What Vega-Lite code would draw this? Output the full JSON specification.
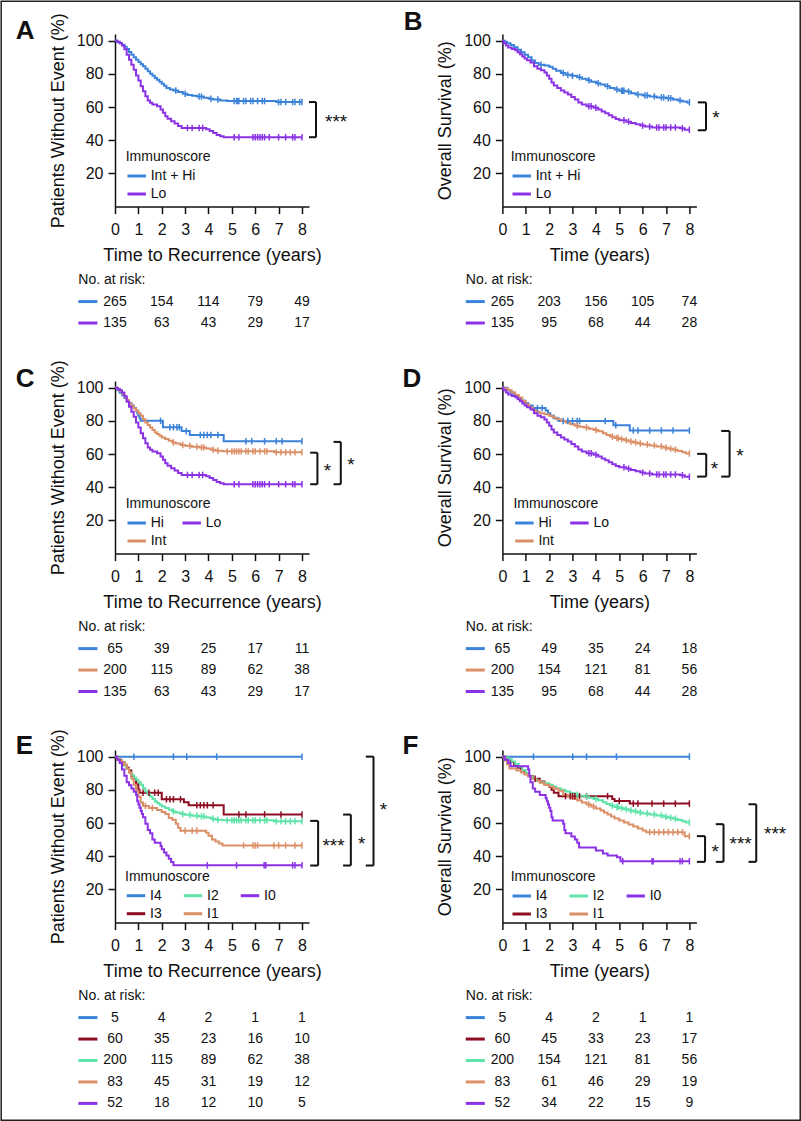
{
"$schema": "https://vega.github.io/schema/vega-lite/v6.json",
"padding": 0,
"autosize": {"type": "pad"},
"background": "white",
"bounds": "flush",
"columns": 2,
"spacing": {"row": 0, "column": 193.4},
"resolve": {"scale": {"color": "independent"}, "legend": {"color": "independent"}},
"config": {
  "font": "Liberation Sans",
  "view": {"stroke": null},
  "axis": {"grid": false, "labelOverlap": false, "labelFlush": false, "domainColor": "#111", "domainWidth": 1.5, "tickColor": "#111", "tickWidth": 1.5, "tickSize": 7, "labelFontSize": 16, "labelColor": "#111", "titleFontSize": 18, "titleFontWeight": "normal", "titleColor": "#111", "labelFont": "Liberation Sans", "titleFont": "Liberation Sans"},
  "axisX": {"tickCount": 9, "labelOverlap": false},
  "legend": {"orient": "none", "titleFontSize": 14, "titleFontWeight": "normal", "titleColor": "#111", "labelFontSize": 14, "labelColor": "#111", "symbolType": "stroke", "symbolStrokeWidth": 3, "symbolSize": 340, "labelOffset": 3, "rowPadding": 0, "titlePadding": 1, "padding": 0, "labelFont": "Liberation Sans", "titleFont": "Liberation Sans"},
  "text": {"font": "Liberation Sans"}
},
"datasets": {
"br": [
{"p":"A","xa":8.3,"xv":8.6,"ya":63,"yb":41.8,"lab":"***","lx":9.46,"ly":54},
{"p":"B","xa":8.36,"xv":8.71,"ya":62.8,"yb":46,"lab":"*","lx":9.14,"ly":56.4},
{"p":"C","xa":8.35,"xv":8.66,"ya":60.8,"yb":41.8,"lab":"*","lx":9.09,"ly":53},
{"p":"C","xa":9.35,"xv":9.66,"ya":67.3,"yb":41.8,"lab":"*","lx":10.09,"ly":56.3},
{"p":"D","xa":8.33,"xv":8.72,"ya":60.1,"yb":46.4,"lab":"*","lx":9.07,"ly":54},
{"p":"D","xa":9.36,"xv":9.72,"ya":73.9,"yb":46.4,"lab":"*","lx":10.16,"ly":61.9},
{"p":"E","xa":8.35,"xv":8.69,"ya":61.3,"yb":34.4,"lab":"***","lx":9.35,"ly":49},
{"p":"E","xa":9.76,"xv":10.09,"ya":65.1,"yb":34.4,"lab":"*","lx":10.55,"ly":50.5},
{"p":"E","xa":10.73,"xv":11.06,"ya":100,"yb":34.4,"lab":"*","lx":11.49,"ly":71},
{"p":"F","xa":8.32,"xv":8.67,"ya":52.1,"yb":36.6,"lab":"*","lx":9.1,"ly":45.7},
{"p":"F","xa":9.13,"xv":9.46,"ya":59.3,"yb":36.6,"lab":"***","lx":10.19,"ly":50.5},
{"p":"F","xa":10.53,"xv":10.86,"ya":71.3,"yb":36.6,"lab":"***","lx":11.67,"ly":56.6}
],
"risk": [
{"p":"A","g":"Int + Hi","r":1,"t":0,"n":"265"},{"p":"A","g":"Int + Hi","r":1,"t":2,"n":"154"},{"p":"A","g":"Int + Hi","r":1,"t":4,"n":"114"},{"p":"A","g":"Int + Hi","r":1,"t":6,"n":"79"},{"p":"A","g":"Int + Hi","r":1,"t":8,"n":"49"},
{"p":"A","g":"Lo","r":2,"t":0,"n":"135"},{"p":"A","g":"Lo","r":2,"t":2,"n":"63"},{"p":"A","g":"Lo","r":2,"t":4,"n":"43"},{"p":"A","g":"Lo","r":2,"t":6,"n":"29"},{"p":"A","g":"Lo","r":2,"t":8,"n":"17"},
{"p":"B","g":"Int + Hi","r":1,"t":0,"n":"265"},{"p":"B","g":"Int + Hi","r":1,"t":2,"n":"203"},{"p":"B","g":"Int + Hi","r":1,"t":4,"n":"156"},{"p":"B","g":"Int + Hi","r":1,"t":6,"n":"105"},{"p":"B","g":"Int + Hi","r":1,"t":8,"n":"74"},
{"p":"B","g":"Lo","r":2,"t":0,"n":"135"},{"p":"B","g":"Lo","r":2,"t":2,"n":"95"},{"p":"B","g":"Lo","r":2,"t":4,"n":"68"},{"p":"B","g":"Lo","r":2,"t":6,"n":"44"},{"p":"B","g":"Lo","r":2,"t":8,"n":"28"},
{"p":"C","g":"Hi","r":1,"t":0,"n":"65"},{"p":"C","g":"Hi","r":1,"t":2,"n":"39"},{"p":"C","g":"Hi","r":1,"t":4,"n":"25"},{"p":"C","g":"Hi","r":1,"t":6,"n":"17"},{"p":"C","g":"Hi","r":1,"t":8,"n":"11"},
{"p":"C","g":"Int","r":2,"t":0,"n":"200"},{"p":"C","g":"Int","r":2,"t":2,"n":"115"},{"p":"C","g":"Int","r":2,"t":4,"n":"89"},{"p":"C","g":"Int","r":2,"t":6,"n":"62"},{"p":"C","g":"Int","r":2,"t":8,"n":"38"},
{"p":"C","g":"Lo","r":3,"t":0,"n":"135"},{"p":"C","g":"Lo","r":3,"t":2,"n":"63"},{"p":"C","g":"Lo","r":3,"t":4,"n":"43"},{"p":"C","g":"Lo","r":3,"t":6,"n":"29"},{"p":"C","g":"Lo","r":3,"t":8,"n":"17"},
{"p":"D","g":"Hi","r":1,"t":0,"n":"65"},{"p":"D","g":"Hi","r":1,"t":2,"n":"49"},{"p":"D","g":"Hi","r":1,"t":4,"n":"35"},{"p":"D","g":"Hi","r":1,"t":6,"n":"24"},{"p":"D","g":"Hi","r":1,"t":8,"n":"18"},
{"p":"D","g":"Int","r":2,"t":0,"n":"200"},{"p":"D","g":"Int","r":2,"t":2,"n":"154"},{"p":"D","g":"Int","r":2,"t":4,"n":"121"},{"p":"D","g":"Int","r":2,"t":6,"n":"81"},{"p":"D","g":"Int","r":2,"t":8,"n":"56"},
{"p":"D","g":"Lo","r":3,"t":0,"n":"135"},{"p":"D","g":"Lo","r":3,"t":2,"n":"95"},{"p":"D","g":"Lo","r":3,"t":4,"n":"68"},{"p":"D","g":"Lo","r":3,"t":6,"n":"44"},{"p":"D","g":"Lo","r":3,"t":8,"n":"28"},
{"p":"E","g":"I4","r":1,"t":0,"n":"5"},{"p":"E","g":"I4","r":1,"t":2,"n":"4"},{"p":"E","g":"I4","r":1,"t":4,"n":"2"},{"p":"E","g":"I4","r":1,"t":6,"n":"1"},{"p":"E","g":"I4","r":1,"t":8,"n":"1"},
{"p":"E","g":"I3","r":2,"t":0,"n":"60"},{"p":"E","g":"I3","r":2,"t":2,"n":"35"},{"p":"E","g":"I3","r":2,"t":4,"n":"23"},{"p":"E","g":"I3","r":2,"t":6,"n":"16"},{"p":"E","g":"I3","r":2,"t":8,"n":"10"},
{"p":"E","g":"I2","r":3,"t":0,"n":"200"},{"p":"E","g":"I2","r":3,"t":2,"n":"115"},{"p":"E","g":"I2","r":3,"t":4,"n":"89"},{"p":"E","g":"I2","r":3,"t":6,"n":"62"},{"p":"E","g":"I2","r":3,"t":8,"n":"38"},
{"p":"E","g":"I1","r":4,"t":0,"n":"83"},{"p":"E","g":"I1","r":4,"t":2,"n":"45"},{"p":"E","g":"I1","r":4,"t":4,"n":"31"},{"p":"E","g":"I1","r":4,"t":6,"n":"19"},{"p":"E","g":"I1","r":4,"t":8,"n":"12"},
{"p":"E","g":"I0","r":5,"t":0,"n":"52"},{"p":"E","g":"I0","r":5,"t":2,"n":"18"},{"p":"E","g":"I0","r":5,"t":4,"n":"12"},{"p":"E","g":"I0","r":5,"t":6,"n":"10"},{"p":"E","g":"I0","r":5,"t":8,"n":"5"},
{"p":"F","g":"I4","r":1,"t":0,"n":"5"},{"p":"F","g":"I4","r":1,"t":2,"n":"4"},{"p":"F","g":"I4","r":1,"t":4,"n":"2"},{"p":"F","g":"I4","r":1,"t":6,"n":"1"},{"p":"F","g":"I4","r":1,"t":8,"n":"1"},
{"p":"F","g":"I3","r":2,"t":0,"n":"60"},{"p":"F","g":"I3","r":2,"t":2,"n":"45"},{"p":"F","g":"I3","r":2,"t":4,"n":"33"},{"p":"F","g":"I3","r":2,"t":6,"n":"23"},{"p":"F","g":"I3","r":2,"t":8,"n":"17"},
{"p":"F","g":"I2","r":3,"t":0,"n":"200"},{"p":"F","g":"I2","r":3,"t":2,"n":"154"},{"p":"F","g":"I2","r":3,"t":4,"n":"121"},{"p":"F","g":"I2","r":3,"t":6,"n":"81"},{"p":"F","g":"I2","r":3,"t":8,"n":"56"},
{"p":"F","g":"I1","r":4,"t":0,"n":"83"},{"p":"F","g":"I1","r":4,"t":2,"n":"61"},{"p":"F","g":"I1","r":4,"t":4,"n":"46"},{"p":"F","g":"I1","r":4,"t":6,"n":"29"},{"p":"F","g":"I1","r":4,"t":8,"n":"19"},
{"p":"F","g":"I0","r":5,"t":0,"n":"52"},{"p":"F","g":"I0","r":5,"t":2,"n":"34"},{"p":"F","g":"I0","r":5,"t":4,"n":"22"},{"p":"F","g":"I0","r":5,"t":6,"n":"15"},{"p":"F","g":"I0","r":5,"t":8,"n":"9"}
],
"km": [
{"p":"A","g":"Int + Hi","t":0,"s":100},{"p":"A","g":"Int + Hi","t":0.1,"s":99.2},{"p":"A","g":"Int + Hi","t":0.2,"s":98.5},{"p":"A","g":"Int + Hi","t":0.3,"s":97.5},{"p":"A","g":"Int + Hi","t":0.4,"s":96.3},{"p":"A","g":"Int + Hi","t":0.5,"s":95},{"p":"A","g":"Int + Hi","t":0.6,"s":93.2},{"p":"A","g":"Int + Hi","t":0.7,"s":91.5},{"p":"A","g":"Int + Hi","t":0.8,"s":90},{"p":"A","g":"Int + Hi","t":0.9,"s":88.5},{"p":"A","g":"Int + Hi","t":1,"s":87.2},{"p":"A","g":"Int + Hi","t":1.1,"s":85.8},{"p":"A","g":"Int + Hi","t":1.2,"s":84.5},{"p":"A","g":"Int + Hi","t":1.3,"s":83},{"p":"A","g":"Int + Hi","t":1.4,"s":81.5},{"p":"A","g":"Int + Hi","t":1.5,"s":80},{"p":"A","g":"Int + Hi","t":1.6,"s":78.8},{"p":"A","g":"Int + Hi","t":1.7,"s":77.5},{"p":"A","g":"Int + Hi","t":1.8,"s":76.5},{"p":"A","g":"Int + Hi","t":1.9,"s":75.3},{"p":"A","g":"Int + Hi","t":2,"s":74},{"p":"A","g":"Int + Hi","t":2.1,"s":72.8},{"p":"A","g":"Int + Hi","t":2.2,"s":71.5},{"p":"A","g":"Int + Hi","t":2.35,"s":70.5},{"p":"A","g":"Int + Hi","t":2.5,"s":70},{"p":"A","g":"Int + Hi","t":2.7,"s":69},{"p":"A","g":"Int + Hi","t":2.9,"s":68},{"p":"A","g":"Int + Hi","t":3.1,"s":67.3},{"p":"A","g":"Int + Hi","t":3.3,"s":66.8},{"p":"A","g":"Int + Hi","t":3.5,"s":66.3},{"p":"A","g":"Int + Hi","t":3.8,"s":65.6},{"p":"A","g":"Int + Hi","t":4,"s":65},{"p":"A","g":"Int + Hi","t":4.2,"s":64.5},{"p":"A","g":"Int + Hi","t":4.5,"s":64},{"p":"A","g":"Int + Hi","t":4.8,"s":63.6},{"p":"A","g":"Int + Hi","t":6.9,"s":63},{"p":"A","g":"Int + Hi","t":8,"s":63,"c":1},
{"p":"A","g":"Int + Hi","t":2.6,"s":70,"c":1},{"p":"A","g":"Int + Hi","t":3,"s":68,"c":1},{"p":"A","g":"Int + Hi","t":3.6,"s":66.3,"c":1},{"p":"A","g":"Int + Hi","t":3.7,"s":66.3,"c":1},{"p":"A","g":"Int + Hi","t":4.1,"s":65,"c":1},{"p":"A","g":"Int + Hi","t":4.4,"s":64.5,"c":1},{"p":"A","g":"Int + Hi","t":5.1,"s":63.6,"c":1},{"p":"A","g":"Int + Hi","t":5.2,"s":63.6,"c":1},{"p":"A","g":"Int + Hi","t":5.25,"s":63.6,"c":1},{"p":"A","g":"Int + Hi","t":5.3,"s":63.6,"c":1},{"p":"A","g":"Int + Hi","t":5.5,"s":63.6,"c":1},{"p":"A","g":"Int + Hi","t":5.6,"s":63.6,"c":1},{"p":"A","g":"Int + Hi","t":5.8,"s":63.6,"c":1},{"p":"A","g":"Int + Hi","t":5.9,"s":63.6,"c":1},{"p":"A","g":"Int + Hi","t":6.1,"s":63.6,"c":1},{"p":"A","g":"Int + Hi","t":6.3,"s":63.6,"c":1},{"p":"A","g":"Int + Hi","t":6.4,"s":63.6,"c":1},{"p":"A","g":"Int + Hi","t":7,"s":63,"c":1},{"p":"A","g":"Int + Hi","t":7.1,"s":63,"c":1},{"p":"A","g":"Int + Hi","t":7.3,"s":63,"c":1},{"p":"A","g":"Int + Hi","t":7.6,"s":63,"c":1},{"p":"A","g":"Int + Hi","t":7.7,"s":63,"c":1},{"p":"A","g":"Int + Hi","t":7.9,"s":63,"c":1},
{"p":"A","g":"Lo","t":0,"s":100},{"p":"A","g":"Lo","t":0.1,"s":99.3},{"p":"A","g":"Lo","t":0.2,"s":98.5},{"p":"A","g":"Lo","t":0.3,"s":97},{"p":"A","g":"Lo","t":0.4,"s":94.8},{"p":"A","g":"Lo","t":0.5,"s":91.5},{"p":"A","g":"Lo","t":0.6,"s":88.5},{"p":"A","g":"Lo","t":0.7,"s":85.5},{"p":"A","g":"Lo","t":0.8,"s":82.5},{"p":"A","g":"Lo","t":0.9,"s":79},{"p":"A","g":"Lo","t":1,"s":76},{"p":"A","g":"Lo","t":1.1,"s":72.5},{"p":"A","g":"Lo","t":1.2,"s":69.5},{"p":"A","g":"Lo","t":1.3,"s":66.5},{"p":"A","g":"Lo","t":1.4,"s":64},{"p":"A","g":"Lo","t":1.5,"s":62.5},{"p":"A","g":"Lo","t":1.6,"s":61.5},{"p":"A","g":"Lo","t":1.8,"s":60.5},{"p":"A","g":"Lo","t":1.95,"s":58.5},{"p":"A","g":"Lo","t":2.05,"s":56.5},{"p":"A","g":"Lo","t":2.15,"s":54.5},{"p":"A","g":"Lo","t":2.25,"s":53},{"p":"A","g":"Lo","t":2.4,"s":51.5},{"p":"A","g":"Lo","t":2.55,"s":50},{"p":"A","g":"Lo","t":2.7,"s":48.5},{"p":"A","g":"Lo","t":2.85,"s":47.4},{"p":"A","g":"Lo","t":3.9,"s":46.6},{"p":"A","g":"Lo","t":4.05,"s":45.5},{"p":"A","g":"Lo","t":4.2,"s":44.3},{"p":"A","g":"Lo","t":4.35,"s":43.2},{"p":"A","g":"Lo","t":4.5,"s":42.4},{"p":"A","g":"Lo","t":4.65,"s":41.8},{"p":"A","g":"Lo","t":8,"s":41.8,"c":1},
{"p":"A","g":"Lo","t":3.1,"s":47.4,"c":1},{"p":"A","g":"Lo","t":3.3,"s":47.4,"c":1},{"p":"A","g":"Lo","t":3.6,"s":47.4,"c":1},{"p":"A","g":"Lo","t":3.75,"s":47.4,"c":1},{"p":"A","g":"Lo","t":5.1,"s":41.8,"c":1},{"p":"A","g":"Lo","t":5.3,"s":41.8,"c":1},{"p":"A","g":"Lo","t":5.9,"s":41.8,"c":1},{"p":"A","g":"Lo","t":6,"s":41.8,"c":1},{"p":"A","g":"Lo","t":6.1,"s":41.8,"c":1},{"p":"A","g":"Lo","t":6.2,"s":41.8,"c":1},{"p":"A","g":"Lo","t":6.3,"s":41.8,"c":1},{"p":"A","g":"Lo","t":6.4,"s":41.8,"c":1},{"p":"A","g":"Lo","t":6.6,"s":41.8,"c":1},{"p":"A","g":"Lo","t":7,"s":41.8,"c":1},{"p":"A","g":"Lo","t":7.3,"s":41.8,"c":1},{"p":"A","g":"Lo","t":7.6,"s":41.8,"c":1},{"p":"A","g":"Lo","t":7.7,"s":41.8,"c":1},
{"p":"B","g":"Int + Hi","t":0,"s":100},{"p":"B","g":"Int + Hi","t":0.1,"s":99.3},{"p":"B","g":"Int + Hi","t":0.2,"s":98.5},{"p":"B","g":"Int + Hi","t":0.35,"s":97.3},{"p":"B","g":"Int + Hi","t":0.5,"s":96},{"p":"B","g":"Int + Hi","t":0.65,"s":94.5},{"p":"B","g":"Int + Hi","t":0.8,"s":93},{"p":"B","g":"Int + Hi","t":0.95,"s":91.5},{"p":"B","g":"Int + Hi","t":1.1,"s":90},{"p":"B","g":"Int + Hi","t":1.25,"s":88},{"p":"B","g":"Int + Hi","t":1.4,"s":86.5},{"p":"B","g":"Int + Hi","t":1.55,"s":85.5},{"p":"B","g":"Int + Hi","t":1.8,"s":85},{"p":"B","g":"Int + Hi","t":2,"s":84.3},{"p":"B","g":"Int + Hi","t":2.15,"s":83},{"p":"B","g":"Int + Hi","t":2.3,"s":81.8},{"p":"B","g":"Int + Hi","t":2.5,"s":80.5},{"p":"B","g":"Int + Hi","t":2.7,"s":79.5},{"p":"B","g":"Int + Hi","t":2.95,"s":78.8},{"p":"B","g":"Int + Hi","t":3.2,"s":78},{"p":"B","g":"Int + Hi","t":3.4,"s":77},{"p":"B","g":"Int + Hi","t":3.6,"s":76.2},{"p":"B","g":"Int + Hi","t":3.8,"s":75.3},{"p":"B","g":"Int + Hi","t":4,"s":74.3},{"p":"B","g":"Int + Hi","t":4.2,"s":73.5},{"p":"B","g":"Int + Hi","t":4.4,"s":72.5},{"p":"B","g":"Int + Hi","t":4.6,"s":71.5},{"p":"B","g":"Int + Hi","t":4.8,"s":70.5},{"p":"B","g":"Int + Hi","t":5,"s":69.8},{"p":"B","g":"Int + Hi","t":5.3,"s":69.3},{"p":"B","g":"Int + Hi","t":5.5,"s":68.3},{"p":"B","g":"Int + Hi","t":5.7,"s":67.5},{"p":"B","g":"Int + Hi","t":6,"s":67},{"p":"B","g":"Int + Hi","t":6.3,"s":66.4},{"p":"B","g":"Int + Hi","t":6.6,"s":65.8},{"p":"B","g":"Int + Hi","t":7,"s":65.3},{"p":"B","g":"Int + Hi","t":7.3,"s":64.5},{"p":"B","g":"Int + Hi","t":7.5,"s":64},{"p":"B","g":"Int + Hi","t":7.7,"s":63.3},{"p":"B","g":"Int + Hi","t":7.9,"s":62.8},{"p":"B","g":"Int + Hi","t":8,"s":62.8,"c":1},
{"p":"B","g":"Int + Hi","t":1.65,"s":85.5,"c":1},{"p":"B","g":"Int + Hi","t":2.6,"s":80.5,"c":1},{"p":"B","g":"Int + Hi","t":2.8,"s":79.5,"c":1},{"p":"B","g":"Int + Hi","t":3,"s":78.8,"c":1},{"p":"B","g":"Int + Hi","t":3.3,"s":78,"c":1},{"p":"B","g":"Int + Hi","t":3.7,"s":76.2,"c":1},{"p":"B","g":"Int + Hi","t":4.1,"s":74.3,"c":1},{"p":"B","g":"Int + Hi","t":4.5,"s":72.5,"c":1},{"p":"B","g":"Int + Hi","t":4.9,"s":70.5,"c":1},{"p":"B","g":"Int + Hi","t":5.1,"s":69.8,"c":1},{"p":"B","g":"Int + Hi","t":5.15,"s":69.8,"c":1},{"p":"B","g":"Int + Hi","t":5.2,"s":69.8,"c":1},{"p":"B","g":"Int + Hi","t":5.4,"s":69.3,"c":1},{"p":"B","g":"Int + Hi","t":5.8,"s":67.5,"c":1},{"p":"B","g":"Int + Hi","t":6.1,"s":67,"c":1},{"p":"B","g":"Int + Hi","t":6.2,"s":67,"c":1},{"p":"B","g":"Int + Hi","t":6.5,"s":66.4,"c":1},{"p":"B","g":"Int + Hi","t":6.8,"s":65.8,"c":1},{"p":"B","g":"Int + Hi","t":6.9,"s":65.8,"c":1},{"p":"B","g":"Int + Hi","t":7.1,"s":65.3,"c":1},{"p":"B","g":"Int + Hi","t":7.2,"s":65.3,"c":1},{"p":"B","g":"Int + Hi","t":7.6,"s":64,"c":1},
{"p":"B","g":"Lo","t":0,"s":100},{"p":"B","g":"Lo","t":0.05,"s":98.5},{"p":"B","g":"Lo","t":0.15,"s":97},{"p":"B","g":"Lo","t":0.25,"s":95.8},{"p":"B","g":"Lo","t":0.4,"s":95},{"p":"B","g":"Lo","t":0.55,"s":94.2},{"p":"B","g":"Lo","t":0.65,"s":93},{"p":"B","g":"Lo","t":0.75,"s":91.8},{"p":"B","g":"Lo","t":0.85,"s":90.5},{"p":"B","g":"Lo","t":0.95,"s":89.3},{"p":"B","g":"Lo","t":1.05,"s":88.2},{"p":"B","g":"Lo","t":1.2,"s":86.8},{"p":"B","g":"Lo","t":1.35,"s":84.5},{"p":"B","g":"Lo","t":1.5,"s":83},{"p":"B","g":"Lo","t":1.65,"s":82.2},{"p":"B","g":"Lo","t":1.8,"s":80.8},{"p":"B","g":"Lo","t":1.9,"s":79},{"p":"B","g":"Lo","t":2,"s":77},{"p":"B","g":"Lo","t":2.1,"s":74.8},{"p":"B","g":"Lo","t":2.2,"s":73},{"p":"B","g":"Lo","t":2.35,"s":71.5},{"p":"B","g":"Lo","t":2.5,"s":70},{"p":"B","g":"Lo","t":2.65,"s":68.8},{"p":"B","g":"Lo","t":2.8,"s":67.5},{"p":"B","g":"Lo","t":2.95,"s":66},{"p":"B","g":"Lo","t":3.1,"s":64.5},{"p":"B","g":"Lo","t":3.25,"s":62.8},{"p":"B","g":"Lo","t":3.4,"s":61.5},{"p":"B","g":"Lo","t":3.6,"s":60.5},{"p":"B","g":"Lo","t":3.9,"s":59.6},{"p":"B","g":"Lo","t":4.1,"s":58.5},{"p":"B","g":"Lo","t":4.25,"s":57.3},{"p":"B","g":"Lo","t":4.4,"s":56.2},{"p":"B","g":"Lo","t":4.55,"s":55},{"p":"B","g":"Lo","t":4.7,"s":53.8},{"p":"B","g":"Lo","t":4.85,"s":52.8},{"p":"B","g":"Lo","t":5,"s":52},{"p":"B","g":"Lo","t":5.3,"s":51.2},{"p":"B","g":"Lo","t":5.5,"s":50.4},{"p":"B","g":"Lo","t":5.7,"s":49.6},{"p":"B","g":"Lo","t":5.9,"s":48.8},{"p":"B","g":"Lo","t":6.1,"s":48.2},{"p":"B","g":"Lo","t":6.4,"s":47.7},{"p":"B","g":"Lo","t":7.6,"s":47.2},{"p":"B","g":"Lo","t":7.8,"s":46.3},{"p":"B","g":"Lo","t":8,"s":46.3,"c":1},
{"p":"B","g":"Lo","t":3.7,"s":60.5,"c":1},{"p":"B","g":"Lo","t":3.8,"s":60.5,"c":1},{"p":"B","g":"Lo","t":4,"s":59.6,"c":1},{"p":"B","g":"Lo","t":5.2,"s":52,"c":1},{"p":"B","g":"Lo","t":5.4,"s":51.2,"c":1},{"p":"B","g":"Lo","t":6,"s":48.8,"c":1},{"p":"B","g":"Lo","t":6.3,"s":48.2,"c":1},{"p":"B","g":"Lo","t":6.6,"s":47.7,"c":1},{"p":"B","g":"Lo","t":6.7,"s":47.7,"c":1},{"p":"B","g":"Lo","t":6.9,"s":47.7,"c":1},{"p":"B","g":"Lo","t":7,"s":47.7,"c":1},{"p":"B","g":"Lo","t":7.2,"s":47.7,"c":1},{"p":"B","g":"Lo","t":7.4,"s":47.7,"c":1},{"p":"B","g":"Lo","t":7.7,"s":47.2,"c":1},
{"p":"C","g":"Hi","t":0,"s":100},{"p":"C","g":"Hi","t":0.1,"s":98.5},{"p":"C","g":"Hi","t":0.2,"s":96.9},{"p":"C","g":"Hi","t":0.3,"s":95.4},{"p":"C","g":"Hi","t":0.4,"s":93.8},{"p":"C","g":"Hi","t":0.5,"s":92.3},{"p":"C","g":"Hi","t":0.6,"s":90.8},{"p":"C","g":"Hi","t":0.7,"s":89.2},{"p":"C","g":"Hi","t":0.8,"s":87.7},{"p":"C","g":"Hi","t":0.9,"s":86.2},{"p":"C","g":"Hi","t":0.95,"s":84.6},{"p":"C","g":"Hi","t":1,"s":83},{"p":"C","g":"Hi","t":1.05,"s":81.5},{"p":"C","g":"Hi","t":1.1,"s":80},{"p":"C","g":"Hi","t":2.05,"s":76.2},{"p":"C","g":"Hi","t":2.85,"s":73.8},{"p":"C","g":"Hi","t":3.2,"s":71.5},{"p":"C","g":"Hi","t":4.65,"s":67.7},{"p":"C","g":"Hi","t":8,"s":67.7,"c":1},
{"p":"C","g":"Hi","t":1.95,"s":80,"c":1},{"p":"C","g":"Hi","t":2.35,"s":76.2,"c":1},{"p":"C","g":"Hi","t":2.5,"s":76.2,"c":1},{"p":"C","g":"Hi","t":2.65,"s":76.2,"c":1},{"p":"C","g":"Hi","t":2.75,"s":76.2,"c":1},{"p":"C","g":"Hi","t":3.05,"s":73.8,"c":1},{"p":"C","g":"Hi","t":3.65,"s":71.5,"c":1},{"p":"C","g":"Hi","t":3.8,"s":71.5,"c":1},{"p":"C","g":"Hi","t":3.95,"s":71.5,"c":1},{"p":"C","g":"Hi","t":4.1,"s":71.5,"c":1},{"p":"C","g":"Hi","t":4.4,"s":71.5,"c":1},{"p":"C","g":"Hi","t":5.6,"s":67.7,"c":1},{"p":"C","g":"Hi","t":5.85,"s":67.7,"c":1},{"p":"C","g":"Hi","t":6.4,"s":67.7,"c":1},{"p":"C","g":"Hi","t":6.9,"s":67.7,"c":1},{"p":"C","g":"Hi","t":7.15,"s":67.7,"c":1},
{"p":"C","g":"Int","t":0,"s":100},{"p":"C","g":"Int","t":0.1,"s":99},{"p":"C","g":"Int","t":0.2,"s":98},{"p":"C","g":"Int","t":0.3,"s":96.5},{"p":"C","g":"Int","t":0.4,"s":94.5},{"p":"C","g":"Int","t":0.5,"s":92.5},{"p":"C","g":"Int","t":0.6,"s":90.5},{"p":"C","g":"Int","t":0.7,"s":89},{"p":"C","g":"Int","t":0.8,"s":87.5},{"p":"C","g":"Int","t":0.9,"s":86},{"p":"C","g":"Int","t":1,"s":84.5},{"p":"C","g":"Int","t":1.1,"s":83},{"p":"C","g":"Int","t":1.2,"s":81},{"p":"C","g":"Int","t":1.3,"s":79},{"p":"C","g":"Int","t":1.4,"s":77.5},{"p":"C","g":"Int","t":1.5,"s":76},{"p":"C","g":"Int","t":1.6,"s":74.5},{"p":"C","g":"Int","t":1.7,"s":73},{"p":"C","g":"Int","t":1.8,"s":72},{"p":"C","g":"Int","t":1.9,"s":71},{"p":"C","g":"Int","t":2,"s":70},{"p":"C","g":"Int","t":2.15,"s":69},{"p":"C","g":"Int","t":2.3,"s":68},{"p":"C","g":"Int","t":2.45,"s":67},{"p":"C","g":"Int","t":2.6,"s":66.3},{"p":"C","g":"Int","t":2.8,"s":65.5},{"p":"C","g":"Int","t":3,"s":65},{"p":"C","g":"Int","t":3.3,"s":64.4},{"p":"C","g":"Int","t":3.6,"s":64},{"p":"C","g":"Int","t":3.9,"s":63.3},{"p":"C","g":"Int","t":4.1,"s":62.6},{"p":"C","g":"Int","t":4.3,"s":62},{"p":"C","g":"Int","t":4.6,"s":61.6},{"p":"C","g":"Int","t":6.8,"s":61},{"p":"C","g":"Int","t":8,"s":61,"c":1},
{"p":"C","g":"Int","t":2.5,"s":67,"c":1},{"p":"C","g":"Int","t":2.9,"s":65.5,"c":1},{"p":"C","g":"Int","t":3.2,"s":65,"c":1},{"p":"C","g":"Int","t":3.5,"s":64.4,"c":1},{"p":"C","g":"Int","t":3.7,"s":64,"c":1},{"p":"C","g":"Int","t":3.8,"s":64,"c":1},{"p":"C","g":"Int","t":4.2,"s":62.6,"c":1},{"p":"C","g":"Int","t":4.4,"s":62,"c":1},{"p":"C","g":"Int","t":4.8,"s":61.6,"c":1},{"p":"C","g":"Int","t":5,"s":61.6,"c":1},{"p":"C","g":"Int","t":5.1,"s":61.6,"c":1},{"p":"C","g":"Int","t":5.2,"s":61.6,"c":1},{"p":"C","g":"Int","t":5.3,"s":61.6,"c":1},{"p":"C","g":"Int","t":5.4,"s":61.6,"c":1},{"p":"C","g":"Int","t":5.6,"s":61.6,"c":1},{"p":"C","g":"Int","t":5.7,"s":61.6,"c":1},{"p":"C","g":"Int","t":5.9,"s":61.6,"c":1},{"p":"C","g":"Int","t":6,"s":61.6,"c":1},{"p":"C","g":"Int","t":6.2,"s":61.6,"c":1},{"p":"C","g":"Int","t":6.4,"s":61.6,"c":1},{"p":"C","g":"Int","t":6.5,"s":61.6,"c":1},{"p":"C","g":"Int","t":6.9,"s":61,"c":1},{"p":"C","g":"Int","t":7.1,"s":61,"c":1},{"p":"C","g":"Int","t":7.3,"s":61,"c":1},{"p":"C","g":"Int","t":7.5,"s":61,"c":1},{"p":"C","g":"Int","t":7.7,"s":61,"c":1},
{"p":"C","g":"Lo","t":0,"s":100},{"p":"C","g":"Lo","t":0.1,"s":99.3},{"p":"C","g":"Lo","t":0.2,"s":98.5},{"p":"C","g":"Lo","t":0.3,"s":97},{"p":"C","g":"Lo","t":0.4,"s":94.8},{"p":"C","g":"Lo","t":0.5,"s":91.5},{"p":"C","g":"Lo","t":0.6,"s":88.5},{"p":"C","g":"Lo","t":0.7,"s":85.5},{"p":"C","g":"Lo","t":0.8,"s":82.5},{"p":"C","g":"Lo","t":0.9,"s":79},{"p":"C","g":"Lo","t":1,"s":76},{"p":"C","g":"Lo","t":1.1,"s":72.5},{"p":"C","g":"Lo","t":1.2,"s":69.5},{"p":"C","g":"Lo","t":1.3,"s":66.5},{"p":"C","g":"Lo","t":1.4,"s":64},{"p":"C","g":"Lo","t":1.5,"s":62.5},{"p":"C","g":"Lo","t":1.6,"s":61.5},{"p":"C","g":"Lo","t":1.8,"s":60.5},{"p":"C","g":"Lo","t":1.95,"s":58.5},{"p":"C","g":"Lo","t":2.05,"s":56.5},{"p":"C","g":"Lo","t":2.15,"s":54.5},{"p":"C","g":"Lo","t":2.25,"s":53},{"p":"C","g":"Lo","t":2.4,"s":51.5},{"p":"C","g":"Lo","t":2.55,"s":50},{"p":"C","g":"Lo","t":2.7,"s":48.5},{"p":"C","g":"Lo","t":2.85,"s":47.4},{"p":"C","g":"Lo","t":3.9,"s":46.6},{"p":"C","g":"Lo","t":4.05,"s":45.5},{"p":"C","g":"Lo","t":4.2,"s":44.3},{"p":"C","g":"Lo","t":4.35,"s":43.2},{"p":"C","g":"Lo","t":4.5,"s":42.4},{"p":"C","g":"Lo","t":4.65,"s":41.8},{"p":"C","g":"Lo","t":8,"s":41.8,"c":1},
{"p":"C","g":"Lo","t":3.1,"s":47.4,"c":1},{"p":"C","g":"Lo","t":3.3,"s":47.4,"c":1},{"p":"C","g":"Lo","t":3.6,"s":47.4,"c":1},{"p":"C","g":"Lo","t":3.75,"s":47.4,"c":1},{"p":"C","g":"Lo","t":5.1,"s":41.8,"c":1},{"p":"C","g":"Lo","t":5.3,"s":41.8,"c":1},{"p":"C","g":"Lo","t":5.9,"s":41.8,"c":1},{"p":"C","g":"Lo","t":6,"s":41.8,"c":1},{"p":"C","g":"Lo","t":6.1,"s":41.8,"c":1},{"p":"C","g":"Lo","t":6.2,"s":41.8,"c":1},{"p":"C","g":"Lo","t":6.3,"s":41.8,"c":1},{"p":"C","g":"Lo","t":6.4,"s":41.8,"c":1},{"p":"C","g":"Lo","t":6.6,"s":41.8,"c":1},{"p":"C","g":"Lo","t":7,"s":41.8,"c":1},{"p":"C","g":"Lo","t":7.3,"s":41.8,"c":1},{"p":"C","g":"Lo","t":7.6,"s":41.8,"c":1},{"p":"C","g":"Lo","t":7.7,"s":41.8,"c":1},
{"p":"D","g":"Hi","t":0,"s":100},{"p":"D","g":"Hi","t":0.2,"s":98.5},{"p":"D","g":"Hi","t":0.35,"s":97},{"p":"D","g":"Hi","t":0.5,"s":95.4},{"p":"D","g":"Hi","t":0.65,"s":93.8},{"p":"D","g":"Hi","t":0.8,"s":92.3},{"p":"D","g":"Hi","t":0.95,"s":90.8},{"p":"D","g":"Hi","t":1.1,"s":89.2},{"p":"D","g":"Hi","t":1.3,"s":87.7},{"p":"D","g":"Hi","t":1.85,"s":86.2},{"p":"D","g":"Hi","t":1.95,"s":84.6},{"p":"D","g":"Hi","t":2.05,"s":83},{"p":"D","g":"Hi","t":2.2,"s":81.5},{"p":"D","g":"Hi","t":2.4,"s":79.9},{"p":"D","g":"Hi","t":4.75,"s":77.4},{"p":"D","g":"Hi","t":5.45,"s":74.2},{"p":"D","g":"Hi","t":8,"s":74.2,"c":1},
{"p":"D","g":"Hi","t":1.5,"s":87.7,"c":1},{"p":"D","g":"Hi","t":1.7,"s":87.7,"c":1},{"p":"D","g":"Hi","t":2.6,"s":79.9,"c":1},{"p":"D","g":"Hi","t":2.8,"s":79.9,"c":1},{"p":"D","g":"Hi","t":3,"s":79.9,"c":1},{"p":"D","g":"Hi","t":3.2,"s":79.9,"c":1},{"p":"D","g":"Hi","t":3.3,"s":79.9,"c":1},{"p":"D","g":"Hi","t":4.4,"s":79.9,"c":1},{"p":"D","g":"Hi","t":4.85,"s":77.4,"c":1},{"p":"D","g":"Hi","t":5.6,"s":74.2,"c":1},{"p":"D","g":"Hi","t":5.8,"s":74.2,"c":1},{"p":"D","g":"Hi","t":6.3,"s":74.2,"c":1},{"p":"D","g":"Hi","t":6.8,"s":74.2,"c":1},{"p":"D","g":"Hi","t":7.3,"s":74.2,"c":1},
{"p":"D","g":"Int","t":0,"s":100},{"p":"D","g":"Int","t":0.1,"s":99.5},{"p":"D","g":"Int","t":0.25,"s":98.5},{"p":"D","g":"Int","t":0.4,"s":97},{"p":"D","g":"Int","t":0.55,"s":95.5},{"p":"D","g":"Int","t":0.7,"s":94},{"p":"D","g":"Int","t":0.85,"s":92},{"p":"D","g":"Int","t":1,"s":90},{"p":"D","g":"Int","t":1.15,"s":88},{"p":"D","g":"Int","t":1.3,"s":86.5},{"p":"D","g":"Int","t":1.45,"s":85.5},{"p":"D","g":"Int","t":1.6,"s":84.5},{"p":"D","g":"Int","t":1.8,"s":84},{"p":"D","g":"Int","t":2,"s":83},{"p":"D","g":"Int","t":2.15,"s":82},{"p":"D","g":"Int","t":2.3,"s":81},{"p":"D","g":"Int","t":2.5,"s":80},{"p":"D","g":"Int","t":2.7,"s":79},{"p":"D","g":"Int","t":2.9,"s":78},{"p":"D","g":"Int","t":3.1,"s":77},{"p":"D","g":"Int","t":3.3,"s":76.5},{"p":"D","g":"Int","t":3.5,"s":76},{"p":"D","g":"Int","t":3.7,"s":75.3},{"p":"D","g":"Int","t":3.9,"s":74.5},{"p":"D","g":"Int","t":4.1,"s":73.7},{"p":"D","g":"Int","t":4.3,"s":72.5},{"p":"D","g":"Int","t":4.45,"s":71.5},{"p":"D","g":"Int","t":4.6,"s":70.5},{"p":"D","g":"Int","t":4.8,"s":69.7},{"p":"D","g":"Int","t":5,"s":69},{"p":"D","g":"Int","t":5.2,"s":68.3},{"p":"D","g":"Int","t":5.4,"s":67.5},{"p":"D","g":"Int","t":5.6,"s":67},{"p":"D","g":"Int","t":5.8,"s":66.3},{"p":"D","g":"Int","t":6,"s":65.8},{"p":"D","g":"Int","t":6.3,"s":65.2},{"p":"D","g":"Int","t":6.6,"s":64.6},{"p":"D","g":"Int","t":6.9,"s":63.8},{"p":"D","g":"Int","t":7.1,"s":63.2},{"p":"D","g":"Int","t":7.3,"s":62.6},{"p":"D","g":"Int","t":7.5,"s":61.8},{"p":"D","g":"Int","t":7.7,"s":61},{"p":"D","g":"Int","t":7.85,"s":60.3},{"p":"D","g":"Int","t":8,"s":60.3,"c":1},
{"p":"D","g":"Int","t":3.2,"s":77,"c":1},{"p":"D","g":"Int","t":3.6,"s":76,"c":1},{"p":"D","g":"Int","t":4,"s":74.5,"c":1},{"p":"D","g":"Int","t":4.7,"s":70.5,"c":1},{"p":"D","g":"Int","t":4.9,"s":69.7,"c":1},{"p":"D","g":"Int","t":4.95,"s":69.7,"c":1},{"p":"D","g":"Int","t":5.1,"s":69,"c":1},{"p":"D","g":"Int","t":5.3,"s":68.3,"c":1},{"p":"D","g":"Int","t":5.5,"s":67.5,"c":1},{"p":"D","g":"Int","t":5.7,"s":67,"c":1},{"p":"D","g":"Int","t":5.9,"s":66.3,"c":1},{"p":"D","g":"Int","t":6.2,"s":65.8,"c":1},{"p":"D","g":"Int","t":6.5,"s":65.2,"c":1},{"p":"D","g":"Int","t":6.8,"s":64.6,"c":1},{"p":"D","g":"Int","t":7,"s":63.8,"c":1},{"p":"D","g":"Int","t":7.2,"s":63.2,"c":1},{"p":"D","g":"Int","t":7.4,"s":62.6,"c":1},
{"p":"D","g":"Lo","t":0,"s":100},{"p":"D","g":"Lo","t":0.05,"s":98.5},{"p":"D","g":"Lo","t":0.15,"s":97},{"p":"D","g":"Lo","t":0.25,"s":95.8},{"p":"D","g":"Lo","t":0.4,"s":95},{"p":"D","g":"Lo","t":0.55,"s":94.2},{"p":"D","g":"Lo","t":0.65,"s":93},{"p":"D","g":"Lo","t":0.75,"s":91.8},{"p":"D","g":"Lo","t":0.85,"s":90.5},{"p":"D","g":"Lo","t":0.95,"s":89.3},{"p":"D","g":"Lo","t":1.05,"s":88.2},{"p":"D","g":"Lo","t":1.2,"s":86.8},{"p":"D","g":"Lo","t":1.35,"s":84.5},{"p":"D","g":"Lo","t":1.5,"s":83},{"p":"D","g":"Lo","t":1.65,"s":82.2},{"p":"D","g":"Lo","t":1.8,"s":80.8},{"p":"D","g":"Lo","t":1.9,"s":79},{"p":"D","g":"Lo","t":2,"s":77},{"p":"D","g":"Lo","t":2.1,"s":74.8},{"p":"D","g":"Lo","t":2.2,"s":73},{"p":"D","g":"Lo","t":2.35,"s":71.5},{"p":"D","g":"Lo","t":2.5,"s":70},{"p":"D","g":"Lo","t":2.65,"s":68.8},{"p":"D","g":"Lo","t":2.8,"s":67.5},{"p":"D","g":"Lo","t":2.95,"s":66},{"p":"D","g":"Lo","t":3.1,"s":64.5},{"p":"D","g":"Lo","t":3.25,"s":62.8},{"p":"D","g":"Lo","t":3.4,"s":61.5},{"p":"D","g":"Lo","t":3.6,"s":60.5},{"p":"D","g":"Lo","t":3.9,"s":59.6},{"p":"D","g":"Lo","t":4.1,"s":58.5},{"p":"D","g":"Lo","t":4.25,"s":57.3},{"p":"D","g":"Lo","t":4.4,"s":56.2},{"p":"D","g":"Lo","t":4.55,"s":55},{"p":"D","g":"Lo","t":4.7,"s":53.8},{"p":"D","g":"Lo","t":4.85,"s":52.8},{"p":"D","g":"Lo","t":5,"s":52},{"p":"D","g":"Lo","t":5.3,"s":51.2},{"p":"D","g":"Lo","t":5.5,"s":50.4},{"p":"D","g":"Lo","t":5.7,"s":49.6},{"p":"D","g":"Lo","t":5.9,"s":48.8},{"p":"D","g":"Lo","t":6.1,"s":48.2},{"p":"D","g":"Lo","t":6.4,"s":47.7},{"p":"D","g":"Lo","t":7.6,"s":47.2},{"p":"D","g":"Lo","t":7.8,"s":46.3},{"p":"D","g":"Lo","t":8,"s":46.3,"c":1},
{"p":"D","g":"Lo","t":3.7,"s":60.5,"c":1},{"p":"D","g":"Lo","t":3.8,"s":60.5,"c":1},{"p":"D","g":"Lo","t":4,"s":59.6,"c":1},{"p":"D","g":"Lo","t":5.2,"s":52,"c":1},{"p":"D","g":"Lo","t":5.4,"s":51.2,"c":1},{"p":"D","g":"Lo","t":6,"s":48.8,"c":1},{"p":"D","g":"Lo","t":6.3,"s":48.2,"c":1},{"p":"D","g":"Lo","t":6.6,"s":47.7,"c":1},{"p":"D","g":"Lo","t":6.7,"s":47.7,"c":1},{"p":"D","g":"Lo","t":6.9,"s":47.7,"c":1},{"p":"D","g":"Lo","t":7,"s":47.7,"c":1},{"p":"D","g":"Lo","t":7.2,"s":47.7,"c":1},{"p":"D","g":"Lo","t":7.4,"s":47.7,"c":1},{"p":"D","g":"Lo","t":7.7,"s":47.2,"c":1},
{"p":"E","g":"I4","t":0,"s":100},{"p":"E","g":"I4","t":0.81,"s":100,"c":1},{"p":"E","g":"I4","t":2.5,"s":100,"c":1},{"p":"E","g":"I4","t":3.07,"s":100,"c":1},{"p":"E","g":"I4","t":4.35,"s":100,"c":1},{"p":"E","g":"I4","t":8,"s":100,"c":1},
{"p":"E","g":"I3","t":0,"s":100},{"p":"E","g":"I3","t":0.1,"s":98.3},{"p":"E","g":"I3","t":0.25,"s":96.7},{"p":"E","g":"I3","t":0.4,"s":95},{"p":"E","g":"I3","t":0.5,"s":93.3},{"p":"E","g":"I3","t":0.6,"s":91.7},{"p":"E","g":"I3","t":0.7,"s":88.3},{"p":"E","g":"I3","t":0.8,"s":86.7},{"p":"E","g":"I3","t":0.9,"s":83.3},{"p":"E","g":"I3","t":1,"s":80},{"p":"E","g":"I3","t":1.05,"s":78.3},{"p":"E","g":"I3","t":2,"s":74.3},{"p":"E","g":"I3","t":2.95,"s":72.5},{"p":"E","g":"I3","t":3.15,"s":70.7},{"p":"E","g":"I3","t":4.65,"s":65.2},{"p":"E","g":"I3","t":8,"s":65.2,"c":1},
{"p":"E","g":"I3","t":1.2,"s":78.3,"c":1},{"p":"E","g":"I3","t":1.45,"s":78.3,"c":1},{"p":"E","g":"I3","t":1.7,"s":78.3,"c":1},{"p":"E","g":"I3","t":1.85,"s":78.3,"c":1},{"p":"E","g":"I3","t":2.2,"s":74.3,"c":1},{"p":"E","g":"I3","t":2.35,"s":74.3,"c":1},{"p":"E","g":"I3","t":2.5,"s":74.3,"c":1},{"p":"E","g":"I3","t":2.8,"s":74.3,"c":1},{"p":"E","g":"I3","t":3.5,"s":70.7,"c":1},{"p":"E","g":"I3","t":3.65,"s":70.7,"c":1},{"p":"E","g":"I3","t":3.8,"s":70.7,"c":1},{"p":"E","g":"I3","t":3.95,"s":70.7,"c":1},{"p":"E","g":"I3","t":4.2,"s":70.7,"c":1},{"p":"E","g":"I3","t":5.3,"s":65.2,"c":1},{"p":"E","g":"I3","t":5.6,"s":65.2,"c":1},{"p":"E","g":"I3","t":6.4,"s":65.2,"c":1},{"p":"E","g":"I3","t":7.1,"s":65.2,"c":1},
{"p":"E","g":"I2","t":0,"s":100},{"p":"E","g":"I2","t":0.1,"s":99},{"p":"E","g":"I2","t":0.2,"s":98},{"p":"E","g":"I2","t":0.3,"s":96.5},{"p":"E","g":"I2","t":0.4,"s":94.5},{"p":"E","g":"I2","t":0.5,"s":92.5},{"p":"E","g":"I2","t":0.6,"s":90.5},{"p":"E","g":"I2","t":0.7,"s":89},{"p":"E","g":"I2","t":0.8,"s":87.5},{"p":"E","g":"I2","t":0.9,"s":86},{"p":"E","g":"I2","t":1,"s":84.5},{"p":"E","g":"I2","t":1.1,"s":83},{"p":"E","g":"I2","t":1.2,"s":81},{"p":"E","g":"I2","t":1.3,"s":79},{"p":"E","g":"I2","t":1.4,"s":77.5},{"p":"E","g":"I2","t":1.5,"s":76},{"p":"E","g":"I2","t":1.6,"s":74.5},{"p":"E","g":"I2","t":1.7,"s":73},{"p":"E","g":"I2","t":1.8,"s":72},{"p":"E","g":"I2","t":1.9,"s":71},{"p":"E","g":"I2","t":2,"s":70},{"p":"E","g":"I2","t":2.15,"s":69},{"p":"E","g":"I2","t":2.3,"s":68},{"p":"E","g":"I2","t":2.45,"s":67},{"p":"E","g":"I2","t":2.6,"s":66.3},{"p":"E","g":"I2","t":2.8,"s":65.5},{"p":"E","g":"I2","t":3,"s":65},{"p":"E","g":"I2","t":3.3,"s":64.4},{"p":"E","g":"I2","t":3.6,"s":64},{"p":"E","g":"I2","t":3.9,"s":63.3},{"p":"E","g":"I2","t":4.1,"s":62.6},{"p":"E","g":"I2","t":4.3,"s":62},{"p":"E","g":"I2","t":4.6,"s":61.6},{"p":"E","g":"I2","t":6.8,"s":61},{"p":"E","g":"I2","t":8,"s":61,"c":1},
{"p":"E","g":"I2","t":2.5,"s":67,"c":1},{"p":"E","g":"I2","t":2.9,"s":65.5,"c":1},{"p":"E","g":"I2","t":3.2,"s":65,"c":1},{"p":"E","g":"I2","t":3.5,"s":64.4,"c":1},{"p":"E","g":"I2","t":3.7,"s":64,"c":1},{"p":"E","g":"I2","t":3.8,"s":64,"c":1},{"p":"E","g":"I2","t":4.2,"s":62.6,"c":1},{"p":"E","g":"I2","t":4.4,"s":62,"c":1},{"p":"E","g":"I2","t":4.8,"s":61.6,"c":1},{"p":"E","g":"I2","t":5,"s":61.6,"c":1},{"p":"E","g":"I2","t":5.1,"s":61.6,"c":1},{"p":"E","g":"I2","t":5.2,"s":61.6,"c":1},{"p":"E","g":"I2","t":5.3,"s":61.6,"c":1},{"p":"E","g":"I2","t":5.4,"s":61.6,"c":1},{"p":"E","g":"I2","t":5.6,"s":61.6,"c":1},{"p":"E","g":"I2","t":5.7,"s":61.6,"c":1},{"p":"E","g":"I2","t":5.9,"s":61.6,"c":1},{"p":"E","g":"I2","t":6,"s":61.6,"c":1},{"p":"E","g":"I2","t":6.2,"s":61.6,"c":1},{"p":"E","g":"I2","t":6.4,"s":61.6,"c":1},{"p":"E","g":"I2","t":6.5,"s":61.6,"c":1},{"p":"E","g":"I2","t":6.9,"s":61,"c":1},{"p":"E","g":"I2","t":7.1,"s":61,"c":1},{"p":"E","g":"I2","t":7.3,"s":61,"c":1},{"p":"E","g":"I2","t":7.5,"s":61,"c":1},{"p":"E","g":"I2","t":7.7,"s":61,"c":1},
{"p":"E","g":"I1","t":0,"s":100},{"p":"E","g":"I1","t":0.1,"s":98.8},{"p":"E","g":"I1","t":0.2,"s":97.6},{"p":"E","g":"I1","t":0.3,"s":96.4},{"p":"E","g":"I1","t":0.4,"s":95.2},{"p":"E","g":"I1","t":0.5,"s":92.8},{"p":"E","g":"I1","t":0.6,"s":90.4},{"p":"E","g":"I1","t":0.7,"s":86.7},{"p":"E","g":"I1","t":0.8,"s":83},{"p":"E","g":"I1","t":0.9,"s":79.5},{"p":"E","g":"I1","t":1,"s":75.9},{"p":"E","g":"I1","t":1.1,"s":72.3},{"p":"E","g":"I1","t":1.2,"s":70.3},{"p":"E","g":"I1","t":1.45,"s":69.1},{"p":"E","g":"I1","t":1.8,"s":67.9},{"p":"E","g":"I1","t":2,"s":66.7},{"p":"E","g":"I1","t":2.15,"s":65.5},{"p":"E","g":"I1","t":2.3,"s":63.1},{"p":"E","g":"I1","t":2.45,"s":61.9},{"p":"E","g":"I1","t":2.6,"s":59.5},{"p":"E","g":"I1","t":2.7,"s":57.1},{"p":"E","g":"I1","t":2.8,"s":55.3},{"p":"E","g":"I1","t":3.9,"s":54.1},{"p":"E","g":"I1","t":4,"s":52.3},{"p":"E","g":"I1","t":4.15,"s":50},{"p":"E","g":"I1","t":4.3,"s":48.8},{"p":"E","g":"I1","t":4.45,"s":47.6},{"p":"E","g":"I1","t":4.6,"s":46.5},{"p":"E","g":"I1","t":8,"s":46.5,"c":1},
{"p":"E","g":"I1","t":1.3,"s":70.3,"c":1},{"p":"E","g":"I1","t":1.6,"s":69.1,"c":1},{"p":"E","g":"I1","t":3,"s":55.3,"c":1},{"p":"E","g":"I1","t":3.3,"s":55.3,"c":1},{"p":"E","g":"I1","t":3.5,"s":55.3,"c":1},{"p":"E","g":"I1","t":5.5,"s":46.5,"c":1},{"p":"E","g":"I1","t":5.9,"s":46.5,"c":1},{"p":"E","g":"I1","t":6,"s":46.5,"c":1},{"p":"E","g":"I1","t":6.1,"s":46.5,"c":1},{"p":"E","g":"I1","t":6.8,"s":46.5,"c":1},{"p":"E","g":"I1","t":7,"s":46.5,"c":1},{"p":"E","g":"I1","t":7.3,"s":46.5,"c":1},{"p":"E","g":"I1","t":7.7,"s":46.5,"c":1},
{"p":"E","g":"I0","t":0,"s":100},{"p":"E","g":"I0","t":0.1,"s":98.1},{"p":"E","g":"I0","t":0.2,"s":96.2},{"p":"E","g":"I0","t":0.3,"s":92.3},{"p":"E","g":"I0","t":0.4,"s":88.5},{"p":"E","g":"I0","t":0.5,"s":84.6},{"p":"E","g":"I0","t":0.6,"s":82.7},{"p":"E","g":"I0","t":0.7,"s":80.8},{"p":"E","g":"I0","t":0.8,"s":78.8},{"p":"E","g":"I0","t":0.9,"s":76.9},{"p":"E","g":"I0","t":0.95,"s":73.1},{"p":"E","g":"I0","t":1,"s":71.2},{"p":"E","g":"I0","t":1.05,"s":69.2},{"p":"E","g":"I0","t":1.1,"s":67.3},{"p":"E","g":"I0","t":1.15,"s":65.4},{"p":"E","g":"I0","t":1.2,"s":63.5},{"p":"E","g":"I0","t":1.3,"s":59.6},{"p":"E","g":"I0","t":1.4,"s":55.8},{"p":"E","g":"I0","t":1.5,"s":53.8},{"p":"E","g":"I0","t":1.6,"s":50},{"p":"E","g":"I0","t":1.7,"s":48.1},{"p":"E","g":"I0","t":1.95,"s":46.2},{"p":"E","g":"I0","t":2,"s":44.2},{"p":"E","g":"I0","t":2.1,"s":42.3},{"p":"E","g":"I0","t":2.2,"s":40.4},{"p":"E","g":"I0","t":2.3,"s":38.5},{"p":"E","g":"I0","t":2.4,"s":36.5},{"p":"E","g":"I0","t":2.5,"s":34.5},{"p":"E","g":"I0","t":8,"s":34.5,"c":1},
{"p":"E","g":"I0","t":3.95,"s":34.5,"c":1},{"p":"E","g":"I0","t":5.2,"s":34.5,"c":1},{"p":"E","g":"I0","t":6.38,"s":34.5,"c":1},{"p":"E","g":"I0","t":6.45,"s":34.5,"c":1},{"p":"E","g":"I0","t":7.6,"s":34.5,"c":1},{"p":"E","g":"I0","t":7.7,"s":34.5,"c":1},
{"p":"F","g":"I4","t":0,"s":100},{"p":"F","g":"I4","t":1.33,"s":100,"c":1},{"p":"F","g":"I4","t":3.01,"s":100,"c":1},{"p":"F","g":"I4","t":3.6,"s":100,"c":1},{"p":"F","g":"I4","t":4.88,"s":100,"c":1},{"p":"F","g":"I4","t":8,"s":100,"c":1},
{"p":"F","g":"I3","t":0,"s":100},{"p":"F","g":"I3","t":0.15,"s":98.3},{"p":"F","g":"I3","t":0.35,"s":96.7},{"p":"F","g":"I3","t":0.5,"s":95},{"p":"F","g":"I3","t":0.65,"s":93.3},{"p":"F","g":"I3","t":0.8,"s":91.7},{"p":"F","g":"I3","t":0.95,"s":90},{"p":"F","g":"I3","t":1.1,"s":88.3},{"p":"F","g":"I3","t":1.3,"s":86.7},{"p":"F","g":"I3","t":1.6,"s":85},{"p":"F","g":"I3","t":1.8,"s":83.3},{"p":"F","g":"I3","t":2,"s":81.7},{"p":"F","g":"I3","t":2.1,"s":80},{"p":"F","g":"I3","t":2.2,"s":78.3},{"p":"F","g":"I3","t":2.4,"s":76.2},{"p":"F","g":"I3","t":4.7,"s":74.5},{"p":"F","g":"I3","t":4.8,"s":73.3},{"p":"F","g":"I3","t":5.45,"s":71.7},{"p":"F","g":"I3","t":8,"s":71.7,"c":1},
{"p":"F","g":"I3","t":1.4,"s":86.7,"c":1},{"p":"F","g":"I3","t":2.7,"s":76.2,"c":1},{"p":"F","g":"I3","t":2.9,"s":76.2,"c":1},{"p":"F","g":"I3","t":3,"s":76.2,"c":1},{"p":"F","g":"I3","t":3.1,"s":76.2,"c":1},{"p":"F","g":"I3","t":3.3,"s":76.2,"c":1},{"p":"F","g":"I3","t":3.6,"s":76.2,"c":1},{"p":"F","g":"I3","t":4.5,"s":76.2,"c":1},{"p":"F","g":"I3","t":5,"s":73.3,"c":1},{"p":"F","g":"I3","t":5.6,"s":71.7,"c":1},{"p":"F","g":"I3","t":5.8,"s":71.7,"c":1},{"p":"F","g":"I3","t":6.4,"s":71.7,"c":1},{"p":"F","g":"I3","t":6.9,"s":71.7,"c":1},{"p":"F","g":"I3","t":7.4,"s":71.7,"c":1},
{"p":"F","g":"I2","t":0,"s":100},{"p":"F","g":"I2","t":0.1,"s":99.5},{"p":"F","g":"I2","t":0.25,"s":98.5},{"p":"F","g":"I2","t":0.4,"s":97},{"p":"F","g":"I2","t":0.55,"s":95.5},{"p":"F","g":"I2","t":0.7,"s":94},{"p":"F","g":"I2","t":0.85,"s":92},{"p":"F","g":"I2","t":1,"s":90},{"p":"F","g":"I2","t":1.15,"s":88},{"p":"F","g":"I2","t":1.3,"s":86.5},{"p":"F","g":"I2","t":1.45,"s":85.5},{"p":"F","g":"I2","t":1.6,"s":84.5},{"p":"F","g":"I2","t":1.8,"s":84},{"p":"F","g":"I2","t":2,"s":83},{"p":"F","g":"I2","t":2.15,"s":82},{"p":"F","g":"I2","t":2.3,"s":81},{"p":"F","g":"I2","t":2.5,"s":80},{"p":"F","g":"I2","t":2.7,"s":79},{"p":"F","g":"I2","t":2.9,"s":78},{"p":"F","g":"I2","t":3.1,"s":77},{"p":"F","g":"I2","t":3.3,"s":76.5},{"p":"F","g":"I2","t":3.5,"s":76},{"p":"F","g":"I2","t":3.7,"s":75.3},{"p":"F","g":"I2","t":3.9,"s":74.5},{"p":"F","g":"I2","t":4.1,"s":73.7},{"p":"F","g":"I2","t":4.3,"s":72.5},{"p":"F","g":"I2","t":4.45,"s":71.5},{"p":"F","g":"I2","t":4.6,"s":70.5},{"p":"F","g":"I2","t":4.8,"s":69.7},{"p":"F","g":"I2","t":5,"s":69},{"p":"F","g":"I2","t":5.2,"s":68.3},{"p":"F","g":"I2","t":5.4,"s":67.5},{"p":"F","g":"I2","t":5.6,"s":67},{"p":"F","g":"I2","t":5.8,"s":66.3},{"p":"F","g":"I2","t":6,"s":65.8},{"p":"F","g":"I2","t":6.3,"s":65.2},{"p":"F","g":"I2","t":6.6,"s":64.6},{"p":"F","g":"I2","t":6.9,"s":63.8},{"p":"F","g":"I2","t":7.1,"s":63.2},{"p":"F","g":"I2","t":7.3,"s":62.6},{"p":"F","g":"I2","t":7.5,"s":61.8},{"p":"F","g":"I2","t":7.7,"s":61},{"p":"F","g":"I2","t":7.85,"s":60.3},{"p":"F","g":"I2","t":8,"s":60.3,"c":1},
{"p":"F","g":"I2","t":3.2,"s":77,"c":1},{"p":"F","g":"I2","t":3.6,"s":76,"c":1},{"p":"F","g":"I2","t":4,"s":74.5,"c":1},{"p":"F","g":"I2","t":4.7,"s":70.5,"c":1},{"p":"F","g":"I2","t":4.9,"s":69.7,"c":1},{"p":"F","g":"I2","t":4.95,"s":69.7,"c":1},{"p":"F","g":"I2","t":5.1,"s":69,"c":1},{"p":"F","g":"I2","t":5.3,"s":68.3,"c":1},{"p":"F","g":"I2","t":5.5,"s":67.5,"c":1},{"p":"F","g":"I2","t":5.7,"s":67,"c":1},{"p":"F","g":"I2","t":5.9,"s":66.3,"c":1},{"p":"F","g":"I2","t":6.2,"s":65.8,"c":1},{"p":"F","g":"I2","t":6.5,"s":65.2,"c":1},{"p":"F","g":"I2","t":6.8,"s":64.6,"c":1},{"p":"F","g":"I2","t":7,"s":63.8,"c":1},{"p":"F","g":"I2","t":7.2,"s":63.2,"c":1},{"p":"F","g":"I2","t":7.4,"s":62.6,"c":1},
{"p":"F","g":"I1","t":0,"s":100},{"p":"F","g":"I1","t":0.1,"s":97.6},{"p":"F","g":"I1","t":0.2,"s":95.2},{"p":"F","g":"I1","t":0.3,"s":92.8},{"p":"F","g":"I1","t":0.6,"s":91.6},{"p":"F","g":"I1","t":0.8,"s":90.4},{"p":"F","g":"I1","t":0.95,"s":89.2},{"p":"F","g":"I1","t":1.1,"s":88},{"p":"F","g":"I1","t":1.25,"s":86.7},{"p":"F","g":"I1","t":1.4,"s":85.5},{"p":"F","g":"I1","t":1.6,"s":84.3},{"p":"F","g":"I1","t":1.8,"s":83.1},{"p":"F","g":"I1","t":2,"s":81.9},{"p":"F","g":"I1","t":2.2,"s":80.7},{"p":"F","g":"I1","t":2.4,"s":79.5},{"p":"F","g":"I1","t":2.6,"s":77.1},{"p":"F","g":"I1","t":2.8,"s":75.9},{"p":"F","g":"I1","t":3,"s":74.7},{"p":"F","g":"I1","t":3.2,"s":73.5},{"p":"F","g":"I1","t":3.4,"s":72.3},{"p":"F","g":"I1","t":3.6,"s":71.1},{"p":"F","g":"I1","t":3.8,"s":69.9},{"p":"F","g":"I1","t":4,"s":68.7},{"p":"F","g":"I1","t":4.2,"s":67.5},{"p":"F","g":"I1","t":4.35,"s":66.3},{"p":"F","g":"I1","t":4.5,"s":65.1},{"p":"F","g":"I1","t":4.65,"s":63.9},{"p":"F","g":"I1","t":4.8,"s":62.7},{"p":"F","g":"I1","t":5,"s":61.5},{"p":"F","g":"I1","t":5.2,"s":60.3},{"p":"F","g":"I1","t":5.4,"s":59.1},{"p":"F","g":"I1","t":5.6,"s":57.9},{"p":"F","g":"I1","t":5.8,"s":56.7},{"p":"F","g":"I1","t":6,"s":55.5},{"p":"F","g":"I1","t":6.15,"s":54.5},{"p":"F","g":"I1","t":7.8,"s":52},{"p":"F","g":"I1","t":8,"s":52,"c":1},
{"p":"F","g":"I1","t":3.7,"s":71.1,"c":1},{"p":"F","g":"I1","t":3.9,"s":69.9,"c":1},{"p":"F","g":"I1","t":6.3,"s":54.5,"c":1},{"p":"F","g":"I1","t":6.5,"s":54.5,"c":1},{"p":"F","g":"I1","t":6.7,"s":54.5,"c":1},{"p":"F","g":"I1","t":6.9,"s":54.5,"c":1},{"p":"F","g":"I1","t":7.1,"s":54.5,"c":1},{"p":"F","g":"I1","t":7.3,"s":54.5,"c":1},{"p":"F","g":"I1","t":7.5,"s":54.5,"c":1},{"p":"F","g":"I1","t":7.7,"s":54.5,"c":1},
{"p":"F","g":"I0","t":0,"s":100},{"p":"F","g":"I0","t":0.1,"s":98.1},{"p":"F","g":"I0","t":0.25,"s":96.2},{"p":"F","g":"I0","t":0.35,"s":94.2},{"p":"F","g":"I0","t":1.1,"s":92.3},{"p":"F","g":"I0","t":1.15,"s":88.5},{"p":"F","g":"I0","t":1.2,"s":84.6},{"p":"F","g":"I0","t":1.3,"s":80.8},{"p":"F","g":"I0","t":1.4,"s":78.8},{"p":"F","g":"I0","t":1.6,"s":76.9},{"p":"F","g":"I0","t":1.85,"s":75},{"p":"F","g":"I0","t":1.9,"s":73.1},{"p":"F","g":"I0","t":1.95,"s":71.2},{"p":"F","g":"I0","t":2,"s":69.2},{"p":"F","g":"I0","t":2.05,"s":67.3},{"p":"F","g":"I0","t":2.1,"s":63.5},{"p":"F","g":"I0","t":2.15,"s":61.5},{"p":"F","g":"I0","t":2.6,"s":59.6},{"p":"F","g":"I0","t":2.65,"s":55.8},{"p":"F","g":"I0","t":2.7,"s":53.8},{"p":"F","g":"I0","t":2.95,"s":51.9},{"p":"F","g":"I0","t":3.1,"s":50},{"p":"F","g":"I0","t":3.2,"s":48.1},{"p":"F","g":"I0","t":3.28,"s":45.2},{"p":"F","g":"I0","t":4,"s":43.5},{"p":"F","g":"I0","t":4.3,"s":41.6},{"p":"F","g":"I0","t":4.5,"s":40.4},{"p":"F","g":"I0","t":4.9,"s":39.4},{"p":"F","g":"I0","t":5.05,"s":37},{"p":"F","g":"I0","t":8,"s":37,"c":1},
{"p":"F","g":"I0","t":5.15,"s":37,"c":1},{"p":"F","g":"I0","t":6.4,"s":37,"c":1},{"p":"F","g":"I0","t":6.45,"s":37,"c":1},{"p":"F","g":"I0","t":7.6,"s":37,"c":1},{"p":"F","g":"I0","t":7.7,"s":37,"c":1}
]
},
"concat": [
{
 "width": 194, "height": 172.6,
 "layer": [
  {"data": {"name": "km"}, "transform": [{"filter": "datum.p === 'A'"}],
   "mark": {"type": "line", "interpolate": "step-after", "strokeWidth": 2},
   "encoding": {
     "x": {"field": "t", "type": "quantitative", "scale": {"domain": [0, 8.3], "nice": false, "zero": false}, "axis": {"values": [0,1,2,3,4,5,6,7,8], "tickCount": 9, "labelOverlap": false, "title": "Time to Recurrence (years)", "labelPadding": 8, "titlePadding": 9}},
     "y": {"field": "s", "type": "quantitative", "scale": {"domain": [0, 104], "nice": false, "zero": false}, "axis": {"values": [20,40,60,80,100], "labelOverlap": false, "title": "Patients Without Event (%)", "labelPadding": 5, "titlePadding": 9}},
     "color": {"field": "g", "type": "nominal", "scale": {"domain": ["Int + Hi", "Lo"], "range": ["#3b82d9", "#8b32e6"]}, "legend": {"title": "Immunoscore", "symbolType": "stroke", "columns": 1, "legendX": 10.7, "legendY": 116}}
   }},
  {"data": {"name": "km"}, "transform": [{"filter": "datum.p === 'A' && datum.c === 1"}],
   "mark": {"type": "point", "shape": "M0,-1L0,1", "size": 42, "strokeWidth": 1.5, "filled": false, "opacity": 1},
   "encoding": {"x": {"field": "t", "type": "quantitative"}, "y": {"field": "s", "type": "quantitative"}, "color": {"field": "g", "type": "nominal", "legend": null}}},
  {"data": {"name": "br"}, "transform": [{"filter": "datum.p === 'A'"}], "mark": {"type": "rule", "strokeWidth": 2, "color": "#111"},
   "encoding": {"x": {"field": "xv", "type": "quantitative"}, "y": {"field": "ya", "type": "quantitative"}, "y2": {"field": "yb"}}},
  {"data": {"name": "br"}, "transform": [{"filter": "datum.p === 'A'"}], "mark": {"type": "rule", "strokeWidth": 2, "color": "#111"},
   "encoding": {"x": {"field": "xa", "type": "quantitative"}, "x2": {"field": "xv"}, "y": {"field": "ya", "type": "quantitative"}}},
  {"data": {"name": "br"}, "transform": [{"filter": "datum.p === 'A'"}], "mark": {"type": "rule", "strokeWidth": 2, "color": "#111"},
   "encoding": {"x": {"field": "xa", "type": "quantitative"}, "x2": {"field": "xv"}, "y": {"field": "yb", "type": "quantitative"}}},
  {"data": {"name": "br"}, "transform": [{"filter": "datum.p === 'A'"}], "mark": {"type": "text", "fontSize": 19, "dy": 11, "align": "center", "baseline": "alphabetic", "color": "#111"},
   "encoding": {"x": {"field": "lx", "type": "quantitative"}, "y": {"field": "ly", "type": "quantitative"}, "text": {"field": "lab"}}},
  {"data": {"values": [{"L": "A"}]}, "mark": {"type": "text", "fontSize": 26, "fontWeight": "bold", "align": "left", "baseline": "alphabetic", "color": "#111"},
   "encoding": {"x": {"datum": -4.248}, "y": {"datum": 101}, "text": {"field": "L"}}},
  {"data": {"values": [{"f": 1}]}, "mark": {"type": "rect", "filled": false, "color": "#222", "strokeWidth": 1.5},
   "encoding": {"x": {"datum": -4.869}, "x2": {"datum": 29.316}, "y": {"datum": 123.76}, "y2": {"datum": -550.5}}}
 ]
},
{
 "width": 194, "height": 172.6,
 "layer": [
  {"data": {"name": "km"}, "transform": [{"filter": "datum.p === 'B'"}],
   "mark": {"type": "line", "interpolate": "step-after", "strokeWidth": 2},
   "encoding": {
     "x": {"field": "t", "type": "quantitative", "scale": {"domain": [0, 8.3], "nice": false, "zero": false}, "axis": {"values": [0,1,2,3,4,5,6,7,8], "tickCount": 9, "labelOverlap": false, "title": "Time (years)", "labelPadding": 8, "titlePadding": 9}},
     "y": {"field": "s", "type": "quantitative", "scale": {"domain": [0, 104], "nice": false, "zero": false}, "axis": {"values": [20,40,60,80,100], "labelOverlap": false, "title": "Overall Survival (%)", "labelPadding": 5, "titlePadding": 9}},
     "color": {"field": "g", "type": "nominal", "scale": {"domain": ["Int + Hi", "Lo"], "range": ["#3b82d9", "#8b32e6"]}, "legend": {"title": "Immunoscore", "symbolType": "stroke", "columns": 1, "legendX": 8.3, "legendY": 116}}
   }},
  {"data": {"name": "km"}, "transform": [{"filter": "datum.p === 'B' && datum.c === 1"}],
   "mark": {"type": "point", "shape": "M0,-1L0,1", "size": 42, "strokeWidth": 1.5, "filled": false, "opacity": 1},
   "encoding": {"x": {"field": "t", "type": "quantitative"}, "y": {"field": "s", "type": "quantitative"}, "color": {"field": "g", "type": "nominal", "legend": null}}},
  {"data": {"name": "br"}, "transform": [{"filter": "datum.p === 'B'"}], "mark": {"type": "rule", "strokeWidth": 2, "color": "#111"},
   "encoding": {"x": {"field": "xv", "type": "quantitative"}, "y": {"field": "ya", "type": "quantitative"}, "y2": {"field": "yb"}}},
  {"data": {"name": "br"}, "transform": [{"filter": "datum.p === 'B'"}], "mark": {"type": "rule", "strokeWidth": 2, "color": "#111"},
   "encoding": {"x": {"field": "xa", "type": "quantitative"}, "x2": {"field": "xv"}, "y": {"field": "ya", "type": "quantitative"}}},
  {"data": {"name": "br"}, "transform": [{"filter": "datum.p === 'B'"}], "mark": {"type": "rule", "strokeWidth": 2, "color": "#111"},
   "encoding": {"x": {"field": "xa", "type": "quantitative"}, "x2": {"field": "xv"}, "y": {"field": "yb", "type": "quantitative"}}},
  {"data": {"name": "br"}, "transform": [{"filter": "datum.p === 'B'"}], "mark": {"type": "text", "fontSize": 19, "dy": 11, "align": "center", "baseline": "alphabetic", "color": "#111"},
   "encoding": {"x": {"field": "lx", "type": "quantitative"}, "y": {"field": "ly", "type": "quantitative"}, "text": {"field": "lab"}}},
  {"data": {"values": [{"L": "B"}]}, "mark": {"type": "text", "fontSize": 26, "fontWeight": "bold", "align": "left", "baseline": "alphabetic", "color": "#111"},
   "encoding": {"x": {"datum": -4.223}, "y": {"datum": 106.4}, "text": {"field": "L"}}}
 ]
},
{
 "width": 194, "height": 173.5,
 "layer": [
  {"data": {"values": [{"h": "No. at risk:"}]}, "mark": {"type": "text", "align": "left", "baseline": "middle", "fontSize": 14, "color": "#111"},
   "encoding": {"x": {"datum": -1.567, "type": "quantitative", "scale": {"domain": [0, 8.3], "nice": false, "zero": false}, "axis": null},
                "y": {"datum": 0, "type": "quantitative", "scale": {"domain": [-3.41, 4.68], "nice": false, "zero": false, "reverse": true}, "axis": null},
                "text": {"field": "h"}}},
  {"data": {"name": "risk"}, "transform": [{"filter": "datum.p === 'A'"}], "mark": {"type": "text", "align": "center", "baseline": "middle", "fontSize": 14, "color": "#111"},
   "encoding": {"x": {"field": "t", "type": "quantitative", "axis": null}, "y": {"field": "r", "type": "quantitative", "axis": null}, "text": {"field": "n"}}},
  {"data": {"name": "risk"}, "transform": [{"filter": "datum.p === 'A' && datum.t === 0"}], "mark": {"type": "rule", "strokeWidth": 3},
   "encoding": {"x": {"datum": -1.567, "axis": null}, "x2": {"datum": -0.753}, "y": {"field": "r", "type": "quantitative", "axis": null},
                "color": {"field": "g", "type": "nominal", "scale": {"domain": ["Int + Hi", "Lo"], "range": ["#3b82d9", "#8b32e6"]}, "legend": null}}}
 ]
},
{
 "width": 194, "height": 173.5,
 "layer": [
  {"data": {"values": [{"h": "No. at risk:"}]}, "mark": {"type": "text", "align": "left", "baseline": "middle", "fontSize": 14, "color": "#111"},
   "encoding": {"x": {"datum": -1.567, "type": "quantitative", "scale": {"domain": [0, 8.3], "nice": false, "zero": false}, "axis": null},
                "y": {"datum": 0, "type": "quantitative", "scale": {"domain": [-3.41, 4.68], "nice": false, "zero": false, "reverse": true}, "axis": null},
                "text": {"field": "h"}}},
  {"data": {"name": "risk"}, "transform": [{"filter": "datum.p === 'B'"}], "mark": {"type": "text", "align": "center", "baseline": "middle", "fontSize": 14, "color": "#111"},
   "encoding": {"x": {"field": "t", "type": "quantitative", "axis": null}, "y": {"field": "r", "type": "quantitative", "axis": null}, "text": {"field": "n"}}},
  {"data": {"name": "risk"}, "transform": [{"filter": "datum.p === 'B' && datum.t === 0"}], "mark": {"type": "rule", "strokeWidth": 3},
   "encoding": {"x": {"datum": -1.567, "axis": null}, "x2": {"datum": -0.753}, "y": {"field": "r", "type": "quantitative", "axis": null},
                "color": {"field": "g", "type": "nominal", "scale": {"domain": ["Int + Hi", "Lo"], "range": ["#3b82d9", "#8b32e6"]}, "legend": null}}}
 ]
},
{
 "width": 194, "height": 172.6,
 "layer": [
  {"data": {"name": "km"}, "transform": [{"filter": "datum.p === 'C'"}],
   "mark": {"type": "line", "interpolate": "step-after", "strokeWidth": 2},
   "encoding": {
     "x": {"field": "t", "type": "quantitative", "scale": {"domain": [0, 8.3], "nice": false, "zero": false}, "axis": {"values": [0,1,2,3,4,5,6,7,8], "tickCount": 9, "labelOverlap": false, "title": "Time to Recurrence (years)", "labelPadding": 8, "titlePadding": 9}},
     "y": {"field": "s", "type": "quantitative", "scale": {"domain": [0, 104], "nice": false, "zero": false}, "axis": {"values": [20,40,60,80,100], "labelOverlap": false, "title": "Patients Without Event (%)", "labelPadding": 5, "titlePadding": 9}},
     "color": {"field": "g", "type": "nominal", "scale": {"domain": ["Hi", "Int", "Lo"], "range": ["#3b82d9", "#db8f67", "#8b32e6"]}, "legend": {"title": "Immunoscore", "symbolType": "stroke", "columns": 2, "columnPadding": 9, "legendX": 10.7, "legendY": 116}}
   }},
  {"data": {"name": "km"}, "transform": [{"filter": "datum.p === 'C' && datum.c === 1"}],
   "mark": {"type": "point", "shape": "M0,-1L0,1", "size": 42, "strokeWidth": 1.5, "filled": false, "opacity": 1},
   "encoding": {"x": {"field": "t", "type": "quantitative"}, "y": {"field": "s", "type": "quantitative"}, "color": {"field": "g", "type": "nominal", "legend": null}}},
  {"data": {"name": "br"}, "transform": [{"filter": "datum.p === 'C'"}], "mark": {"type": "rule", "strokeWidth": 2, "color": "#111"},
   "encoding": {"x": {"field": "xv", "type": "quantitative"}, "y": {"field": "ya", "type": "quantitative"}, "y2": {"field": "yb"}}},
  {"data": {"name": "br"}, "transform": [{"filter": "datum.p === 'C'"}], "mark": {"type": "rule", "strokeWidth": 2, "color": "#111"},
   "encoding": {"x": {"field": "xa", "type": "quantitative"}, "x2": {"field": "xv"}, "y": {"field": "ya", "type": "quantitative"}}},
  {"data": {"name": "br"}, "transform": [{"filter": "datum.p === 'C'"}], "mark": {"type": "rule", "strokeWidth": 2, "color": "#111"},
   "encoding": {"x": {"field": "xa", "type": "quantitative"}, "x2": {"field": "xv"}, "y": {"field": "yb", "type": "quantitative"}}},
  {"data": {"name": "br"}, "transform": [{"filter": "datum.p === 'C'"}], "mark": {"type": "text", "fontSize": 19, "dy": 11, "align": "center", "baseline": "alphabetic", "color": "#111"},
   "encoding": {"x": {"field": "lx", "type": "quantitative"}, "y": {"field": "ly", "type": "quantitative"}, "text": {"field": "lab"}}},
  {"data": {"values": [{"L": "C"}]}, "mark": {"type": "text", "fontSize": 26, "fontWeight": "bold", "align": "left", "baseline": "alphabetic", "color": "#111"},
   "encoding": {"x": {"datum": -4.248}, "y": {"datum": 100.6}, "text": {"field": "L"}}}
 ]
},
{
 "width": 194, "height": 172.6,
 "layer": [
  {"data": {"name": "km"}, "transform": [{"filter": "datum.p === 'D'"}],
   "mark": {"type": "line", "interpolate": "step-after", "strokeWidth": 2},
   "encoding": {
     "x": {"field": "t", "type": "quantitative", "scale": {"domain": [0, 8.3], "nice": false, "zero": false}, "axis": {"values": [0,1,2,3,4,5,6,7,8], "tickCount": 9, "labelOverlap": false, "title": "Time (years)", "labelPadding": 8, "titlePadding": 9}},
     "y": {"field": "s", "type": "quantitative", "scale": {"domain": [0, 104], "nice": false, "zero": false}, "axis": {"values": [20,40,60,80,100], "labelOverlap": false, "title": "Overall Survival (%)", "labelPadding": 5, "titlePadding": 9}},
     "color": {"field": "g", "type": "nominal", "scale": {"domain": ["Hi", "Int", "Lo"], "range": ["#3b82d9", "#db8f67", "#8b32e6"]}, "legend": {"title": "Immunoscore", "symbolType": "stroke", "columns": 2, "columnPadding": 9, "legendX": 11, "legendY": 116}}
   }},
  {"data": {"name": "km"}, "transform": [{"filter": "datum.p === 'D' && datum.c === 1"}],
   "mark": {"type": "point", "shape": "M0,-1L0,1", "size": 42, "strokeWidth": 1.5, "filled": false, "opacity": 1},
   "encoding": {"x": {"field": "t", "type": "quantitative"}, "y": {"field": "s", "type": "quantitative"}, "color": {"field": "g", "type": "nominal", "legend": null}}},
  {"data": {"name": "br"}, "transform": [{"filter": "datum.p === 'D'"}], "mark": {"type": "rule", "strokeWidth": 2, "color": "#111"},
   "encoding": {"x": {"field": "xv", "type": "quantitative"}, "y": {"field": "ya", "type": "quantitative"}, "y2": {"field": "yb"}}},
  {"data": {"name": "br"}, "transform": [{"filter": "datum.p === 'D'"}], "mark": {"type": "rule", "strokeWidth": 2, "color": "#111"},
   "encoding": {"x": {"field": "xa", "type": "quantitative"}, "x2": {"field": "xv"}, "y": {"field": "ya", "type": "quantitative"}}},
  {"data": {"name": "br"}, "transform": [{"filter": "datum.p === 'D'"}], "mark": {"type": "rule", "strokeWidth": 2, "color": "#111"},
   "encoding": {"x": {"field": "xa", "type": "quantitative"}, "x2": {"field": "xv"}, "y": {"field": "yb", "type": "quantitative"}}},
  {"data": {"name": "br"}, "transform": [{"filter": "datum.p === 'D'"}], "mark": {"type": "text", "fontSize": 19, "dy": 11, "align": "center", "baseline": "alphabetic", "color": "#111"},
   "encoding": {"x": {"field": "lx", "type": "quantitative"}, "y": {"field": "ly", "type": "quantitative"}, "text": {"field": "lab"}}},
  {"data": {"values": [{"L": "D"}]}, "mark": {"type": "text", "fontSize": 26, "fontWeight": "bold", "align": "left", "baseline": "alphabetic", "color": "#111"},
   "encoding": {"x": {"datum": -4.278}, "y": {"datum": 100.6}, "text": {"field": "L"}}}
 ]
},
{
 "width": 194, "height": 196,
 "layer": [
  {"data": {"values": [{"h": "No. at risk:"}]}, "mark": {"type": "text", "align": "left", "baseline": "middle", "fontSize": 14, "color": "#111"},
   "encoding": {"x": {"datum": -1.567, "type": "quantitative", "scale": {"domain": [0, 8.3], "nice": false, "zero": false}, "axis": null},
                "y": {"datum": 0, "type": "quantitative", "scale": {"domain": [-3.41, 5.727], "nice": false, "zero": false, "reverse": true}, "axis": null},
                "text": {"field": "h"}}},
  {"data": {"name": "risk"}, "transform": [{"filter": "datum.p === 'C'"}], "mark": {"type": "text", "align": "center", "baseline": "middle", "fontSize": 14, "color": "#111"},
   "encoding": {"x": {"field": "t", "type": "quantitative", "axis": null}, "y": {"field": "r", "type": "quantitative", "axis": null}, "text": {"field": "n"}}},
  {"data": {"name": "risk"}, "transform": [{"filter": "datum.p === 'C' && datum.t === 0"}], "mark": {"type": "rule", "strokeWidth": 3},
   "encoding": {"x": {"datum": -1.567, "axis": null}, "x2": {"datum": -0.753}, "y": {"field": "r", "type": "quantitative", "axis": null},
                "color": {"field": "g", "type": "nominal", "scale": {"domain": ["Hi", "Int", "Lo"], "range": ["#3b82d9", "#db8f67", "#8b32e6"]}, "legend": null}}}
 ]
},
{
 "width": 194, "height": 196,
 "layer": [
  {"data": {"values": [{"h": "No. at risk:"}]}, "mark": {"type": "text", "align": "left", "baseline": "middle", "fontSize": 14, "color": "#111"},
   "encoding": {"x": {"datum": -1.567, "type": "quantitative", "scale": {"domain": [0, 8.3], "nice": false, "zero": false}, "axis": null},
                "y": {"datum": 0, "type": "quantitative", "scale": {"domain": [-3.41, 5.727], "nice": false, "zero": false, "reverse": true}, "axis": null},
                "text": {"field": "h"}}},
  {"data": {"name": "risk"}, "transform": [{"filter": "datum.p === 'D'"}], "mark": {"type": "text", "align": "center", "baseline": "middle", "fontSize": 14, "color": "#111"},
   "encoding": {"x": {"field": "t", "type": "quantitative", "axis": null}, "y": {"field": "r", "type": "quantitative", "axis": null}, "text": {"field": "n"}}},
  {"data": {"name": "risk"}, "transform": [{"filter": "datum.p === 'D' && datum.t === 0"}], "mark": {"type": "rule", "strokeWidth": 3},
   "encoding": {"x": {"datum": -1.567, "axis": null}, "x2": {"datum": -0.753}, "y": {"field": "r", "type": "quantitative", "axis": null},
                "color": {"field": "g", "type": "nominal", "scale": {"domain": ["Hi", "Int", "Lo"], "range": ["#3b82d9", "#db8f67", "#8b32e6"]}, "legend": null}}}
 ]
},
{
 "width": 194, "height": 172.6,
 "layer": [
  {"data": {"name": "km"}, "transform": [{"filter": "datum.p === 'E'"}],
   "mark": {"type": "line", "interpolate": "step-after", "strokeWidth": 2},
   "encoding": {
     "x": {"field": "t", "type": "quantitative", "scale": {"domain": [0, 8.3], "nice": false, "zero": false}, "axis": {"values": [0,1,2,3,4,5,6,7,8], "tickCount": 9, "labelOverlap": false, "title": "Time to Recurrence (years)", "labelPadding": 8, "titlePadding": 9}},
     "y": {"field": "s", "type": "quantitative", "scale": {"domain": [0, 104], "nice": false, "zero": false}, "axis": {"values": [20,40,60,80,100], "labelOverlap": false, "title": "Patients Without Event (%)", "labelPadding": 5, "titlePadding": 9}},
     "color": {"field": "g", "type": "nominal", "scale": {"domain": ["I4", "I3", "I2", "I1", "I0"], "range": ["#3b82d9", "#8e0c22", "#5ee3a8", "#db8f67", "#8b32e6"]}, "legend": {"title": "Immunoscore", "symbolType": "stroke", "columns": 3, "columnPadding": 15, "legendX": 10, "legendY": 119.7}}
   }},
  {"data": {"name": "km"}, "transform": [{"filter": "datum.p === 'E' && datum.c === 1"}],
   "mark": {"type": "point", "shape": "M0,-1L0,1", "size": 42, "strokeWidth": 1.5, "filled": false, "opacity": 1},
   "encoding": {"x": {"field": "t", "type": "quantitative"}, "y": {"field": "s", "type": "quantitative"}, "color": {"field": "g", "type": "nominal", "legend": null}}},
  {"data": {"name": "br"}, "transform": [{"filter": "datum.p === 'E'"}], "mark": {"type": "rule", "strokeWidth": 2, "color": "#111"},
   "encoding": {"x": {"field": "xv", "type": "quantitative"}, "y": {"field": "ya", "type": "quantitative"}, "y2": {"field": "yb"}}},
  {"data": {"name": "br"}, "transform": [{"filter": "datum.p === 'E'"}], "mark": {"type": "rule", "strokeWidth": 2, "color": "#111"},
   "encoding": {"x": {"field": "xa", "type": "quantitative"}, "x2": {"field": "xv"}, "y": {"field": "ya", "type": "quantitative"}}},
  {"data": {"name": "br"}, "transform": [{"filter": "datum.p === 'E'"}], "mark": {"type": "rule", "strokeWidth": 2, "color": "#111"},
   "encoding": {"x": {"field": "xa", "type": "quantitative"}, "x2": {"field": "xv"}, "y": {"field": "yb", "type": "quantitative"}}},
  {"data": {"name": "br"}, "transform": [{"filter": "datum.p === 'E'"}], "mark": {"type": "text", "fontSize": 19, "dy": 11, "align": "center", "baseline": "alphabetic", "color": "#111"},
   "encoding": {"x": {"field": "lx", "type": "quantitative"}, "y": {"field": "ly", "type": "quantitative"}, "text": {"field": "lab"}}},
  {"data": {"values": [{"L": "E"}]}, "mark": {"type": "text", "fontSize": 26, "fontWeight": "bold", "align": "left", "baseline": "alphabetic", "color": "#111"},
   "encoding": {"x": {"datum": -4.248}, "y": {"datum": 101.4}, "text": {"field": "L"}}}
 ]
},
{
 "width": 194, "height": 172.6,
 "layer": [
  {"data": {"name": "km"}, "transform": [{"filter": "datum.p === 'F'"}],
   "mark": {"type": "line", "interpolate": "step-after", "strokeWidth": 2},
   "encoding": {
     "x": {"field": "t", "type": "quantitative", "scale": {"domain": [0, 8.3], "nice": false, "zero": false}, "axis": {"values": [0,1,2,3,4,5,6,7,8], "tickCount": 9, "labelOverlap": false, "title": "Time (years)", "labelPadding": 8, "titlePadding": 9}},
     "y": {"field": "s", "type": "quantitative", "scale": {"domain": [0, 104], "nice": false, "zero": false}, "axis": {"values": [20,40,60,80,100], "labelOverlap": false, "title": "Overall Survival (%)", "labelPadding": 5, "titlePadding": 9}},
     "color": {"field": "g", "type": "nominal", "scale": {"domain": ["I4", "I3", "I2", "I1", "I0"], "range": ["#3b82d9", "#8e0c22", "#5ee3a8", "#db8f67", "#8b32e6"]}, "legend": {"title": "Immunoscore", "symbolType": "stroke", "columns": 3, "columnPadding": 15, "legendX": 8.3, "legendY": 120}}
   }},
  {"data": {"name": "km"}, "transform": [{"filter": "datum.p === 'F' && datum.c === 1"}],
   "mark": {"type": "point", "shape": "M0,-1L0,1", "size": 42, "strokeWidth": 1.5, "filled": false, "opacity": 1},
   "encoding": {"x": {"field": "t", "type": "quantitative"}, "y": {"field": "s", "type": "quantitative"}, "color": {"field": "g", "type": "nominal", "legend": null}}},
  {"data": {"name": "br"}, "transform": [{"filter": "datum.p === 'F'"}], "mark": {"type": "rule", "strokeWidth": 2, "color": "#111"},
   "encoding": {"x": {"field": "xv", "type": "quantitative"}, "y": {"field": "ya", "type": "quantitative"}, "y2": {"field": "yb"}}},
  {"data": {"name": "br"}, "transform": [{"filter": "datum.p === 'F'"}], "mark": {"type": "rule", "strokeWidth": 2, "color": "#111"},
   "encoding": {"x": {"field": "xa", "type": "quantitative"}, "x2": {"field": "xv"}, "y": {"field": "ya", "type": "quantitative"}}},
  {"data": {"name": "br"}, "transform": [{"filter": "datum.p === 'F'"}], "mark": {"type": "rule", "strokeWidth": 2, "color": "#111"},
   "encoding": {"x": {"field": "xa", "type": "quantitative"}, "x2": {"field": "xv"}, "y": {"field": "yb", "type": "quantitative"}}},
  {"data": {"name": "br"}, "transform": [{"filter": "datum.p === 'F'"}], "mark": {"type": "text", "fontSize": 19, "dy": 11, "align": "center", "baseline": "alphabetic", "color": "#111"},
   "encoding": {"x": {"field": "lx", "type": "quantitative"}, "y": {"field": "ly", "type": "quantitative"}, "text": {"field": "lab"}}},
  {"data": {"values": [{"L": "F"}]}, "mark": {"type": "text", "fontSize": 26, "fontWeight": "bold", "align": "left", "baseline": "alphabetic", "color": "#111"},
   "encoding": {"x": {"datum": -4.278}, "y": {"datum": 101.4}, "text": {"field": "L"}}}
 ]
},
{
 "width": 194, "height": 195,
 "layer": [
  {"data": {"values": [{"h": "No. at risk:"}]}, "mark": {"type": "text", "align": "left", "baseline": "middle", "fontSize": 14, "color": "#111"},
   "encoding": {"x": {"datum": -1.567, "type": "quantitative", "scale": {"domain": [0, 8.3], "nice": false, "zero": false}, "axis": null},
                "y": {"datum": 0, "type": "quantitative", "scale": {"domain": [-3.41, 5.681], "nice": false, "zero": false, "reverse": true}, "axis": null},
                "text": {"field": "h"}}},
  {"data": {"name": "risk"}, "transform": [{"filter": "datum.p === 'E'"}], "mark": {"type": "text", "align": "center", "baseline": "middle", "fontSize": 14, "color": "#111"},
   "encoding": {"x": {"field": "t", "type": "quantitative", "axis": null}, "y": {"field": "r", "type": "quantitative", "axis": null}, "text": {"field": "n"}}},
  {"data": {"name": "risk"}, "transform": [{"filter": "datum.p === 'E' && datum.t === 0"}], "mark": {"type": "rule", "strokeWidth": 3},
   "encoding": {"x": {"datum": -1.567, "axis": null}, "x2": {"datum": -0.753}, "y": {"field": "r", "type": "quantitative", "axis": null},
                "color": {"field": "g", "type": "nominal", "scale": {"domain": ["I4", "I3", "I2", "I1", "I0"], "range": ["#3b82d9", "#8e0c22", "#5ee3a8", "#db8f67", "#8b32e6"]}, "legend": null}}}
 ]
},
{
 "width": 194, "height": 195,
 "layer": [
  {"data": {"values": [{"h": "No. at risk:"}]}, "mark": {"type": "text", "align": "left", "baseline": "middle", "fontSize": 14, "color": "#111"},
   "encoding": {"x": {"datum": -1.567, "type": "quantitative", "scale": {"domain": [0, 8.3], "nice": false, "zero": false}, "axis": null},
                "y": {"datum": 0, "type": "quantitative", "scale": {"domain": [-3.41, 5.681], "nice": false, "zero": false, "reverse": true}, "axis": null},
                "text": {"field": "h"}}},
  {"data": {"name": "risk"}, "transform": [{"filter": "datum.p === 'F'"}], "mark": {"type": "text", "align": "center", "baseline": "middle", "fontSize": 14, "color": "#111"},
   "encoding": {"x": {"field": "t", "type": "quantitative", "axis": null}, "y": {"field": "r", "type": "quantitative", "axis": null}, "text": {"field": "n"}}},
  {"data": {"name": "risk"}, "transform": [{"filter": "datum.p === 'F' && datum.t === 0"}], "mark": {"type": "rule", "strokeWidth": 3},
   "encoding": {"x": {"datum": -1.567, "axis": null}, "x2": {"datum": -0.753}, "y": {"field": "r", "type": "quantitative", "axis": null},
                "color": {"field": "g", "type": "nominal", "scale": {"domain": ["I4", "I3", "I2", "I1", "I0"], "range": ["#3b82d9", "#8e0c22", "#5ee3a8", "#db8f67", "#8b32e6"]}, "legend": null}}}
 ]
}
]
}
